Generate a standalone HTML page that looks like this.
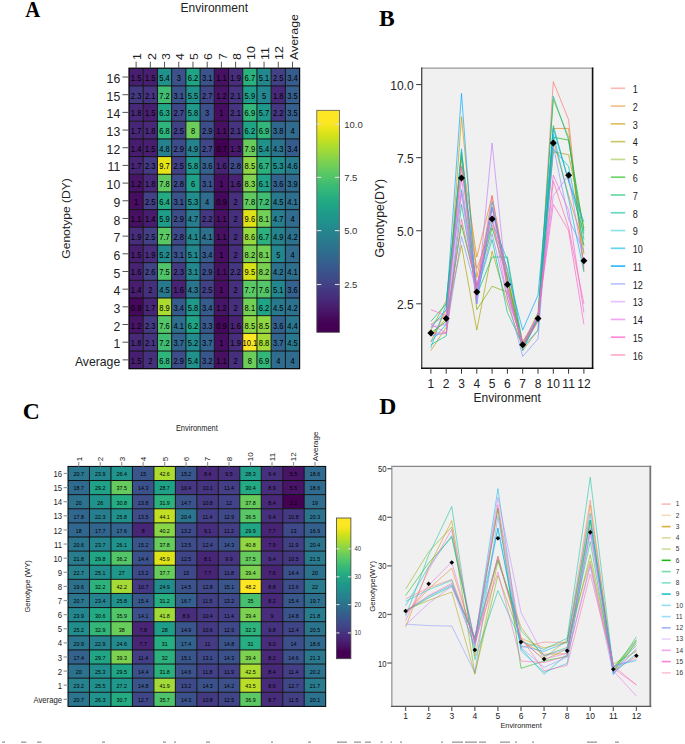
<!DOCTYPE html>
<html><head><meta charset="utf-8"><title>Figure</title>
<style>html,body{margin:0;padding:0;background:#fff;width:685px;height:744px;overflow:hidden}svg{display:block}text{font-family:"Liberation Sans",sans-serif}</style>
</head><body>
<svg width="685" height="744" viewBox="0 0 685 744"><rect x="129.00" y="68.20" width="14.27" height="17.73" fill="#481f70"/>
<rect x="143.22" y="68.20" width="14.27" height="17.73" fill="#481f70"/>
<rect x="157.43" y="68.20" width="14.27" height="17.73" fill="#21918c"/>
<rect x="171.65" y="68.20" width="14.27" height="17.73" fill="#3c508b"/>
<rect x="185.87" y="68.20" width="14.27" height="17.73" fill="#20a486"/>
<rect x="200.08" y="68.20" width="14.27" height="17.73" fill="#3a538b"/>
<rect x="214.30" y="68.20" width="14.27" height="17.73" fill="#471063"/>
<rect x="228.52" y="68.20" width="14.27" height="17.73" fill="#472d7b"/>
<rect x="242.73" y="68.20" width="14.27" height="17.73" fill="#2cb17e"/>
<rect x="256.95" y="68.20" width="14.27" height="17.73" fill="#23888e"/>
<rect x="271.17" y="68.20" width="14.27" height="17.73" fill="#424186"/>
<rect x="285.38" y="68.20" width="14.27" height="17.73" fill="#365c8d"/>
<rect x="129.00" y="85.88" width="14.27" height="17.73" fill="#443a83"/>
<rect x="143.22" y="85.88" width="14.27" height="17.73" fill="#463480"/>
<rect x="157.43" y="85.88" width="14.27" height="17.73" fill="#40bd72"/>
<rect x="171.65" y="85.88" width="14.27" height="17.73" fill="#3a538b"/>
<rect x="185.87" y="85.88" width="14.27" height="17.73" fill="#20928c"/>
<rect x="200.08" y="85.88" width="14.27" height="17.73" fill="#3f4788"/>
<rect x="214.30" y="85.88" width="14.27" height="17.73" fill="#481467"/>
<rect x="228.52" y="85.88" width="14.27" height="17.73" fill="#463480"/>
<rect x="242.73" y="85.88" width="14.27" height="17.73" fill="#1e9d89"/>
<rect x="256.95" y="85.88" width="14.27" height="17.73" fill="#24868e"/>
<rect x="271.17" y="85.88" width="14.27" height="17.73" fill="#482979"/>
<rect x="285.38" y="85.88" width="14.27" height="17.73" fill="#355f8d"/>
<rect x="129.00" y="103.55" width="14.27" height="17.73" fill="#482979"/>
<rect x="143.22" y="103.55" width="14.27" height="17.73" fill="#481f70"/>
<rect x="157.43" y="103.55" width="14.27" height="17.73" fill="#22a785"/>
<rect x="171.65" y="103.55" width="14.27" height="17.73" fill="#3f4788"/>
<rect x="185.87" y="103.55" width="14.27" height="17.73" fill="#1f9a8a"/>
<rect x="200.08" y="103.55" width="14.27" height="17.73" fill="#3c508b"/>
<rect x="214.30" y="103.55" width="14.27" height="17.73" fill="#470d60"/>
<rect x="228.52" y="103.55" width="14.27" height="17.73" fill="#463480"/>
<rect x="242.73" y="103.55" width="14.27" height="17.73" fill="#32b67a"/>
<rect x="256.95" y="103.55" width="14.27" height="17.73" fill="#1f988b"/>
<rect x="271.17" y="103.55" width="14.27" height="17.73" fill="#453781"/>
<rect x="285.38" y="103.55" width="14.27" height="17.73" fill="#355f8d"/>
<rect x="129.00" y="121.23" width="14.27" height="17.73" fill="#482677"/>
<rect x="143.22" y="121.23" width="14.27" height="17.73" fill="#482979"/>
<rect x="157.43" y="121.23" width="14.27" height="17.73" fill="#2fb47c"/>
<rect x="171.65" y="121.23" width="14.27" height="17.73" fill="#424186"/>
<rect x="185.87" y="121.23" width="14.27" height="17.73" fill="#6ccd5a"/>
<rect x="200.08" y="121.23" width="14.27" height="17.73" fill="#3d4d8a"/>
<rect x="214.30" y="121.23" width="14.27" height="17.73" fill="#471063"/>
<rect x="228.52" y="121.23" width="14.27" height="17.73" fill="#463480"/>
<rect x="242.73" y="121.23" width="14.27" height="17.73" fill="#20a486"/>
<rect x="256.95" y="121.23" width="14.27" height="17.73" fill="#32b67a"/>
<rect x="271.17" y="121.23" width="14.27" height="17.73" fill="#31678e"/>
<rect x="285.38" y="121.23" width="14.27" height="17.73" fill="#2f6c8e"/>
<rect x="129.00" y="138.91" width="14.27" height="17.73" fill="#481c6e"/>
<rect x="143.22" y="138.91" width="14.27" height="17.73" fill="#481f70"/>
<rect x="157.43" y="138.91" width="14.27" height="17.73" fill="#26818e"/>
<rect x="171.65" y="138.91" width="14.27" height="17.73" fill="#3d4d8a"/>
<rect x="185.87" y="138.91" width="14.27" height="17.73" fill="#25838e"/>
<rect x="200.08" y="138.91" width="14.27" height="17.73" fill="#3f4788"/>
<rect x="214.30" y="138.91" width="14.27" height="17.73" fill="#440154"/>
<rect x="228.52" y="138.91" width="14.27" height="17.73" fill="#48186a"/>
<rect x="242.73" y="138.91" width="14.27" height="17.73" fill="#67cc5c"/>
<rect x="256.95" y="138.91" width="14.27" height="17.73" fill="#21918c"/>
<rect x="271.17" y="138.91" width="14.27" height="17.73" fill="#2b748e"/>
<rect x="285.38" y="138.91" width="14.27" height="17.73" fill="#365c8d"/>
<rect x="129.00" y="156.58" width="14.27" height="17.73" fill="#482677"/>
<rect x="143.22" y="156.58" width="14.27" height="17.73" fill="#443a83"/>
<rect x="157.43" y="156.58" width="14.27" height="17.73" fill="#e5e419"/>
<rect x="171.65" y="156.58" width="14.27" height="17.73" fill="#424186"/>
<rect x="185.87" y="156.58" width="14.27" height="17.73" fill="#1f9a8a"/>
<rect x="200.08" y="156.58" width="14.27" height="17.73" fill="#34618d"/>
<rect x="214.30" y="156.58" width="14.27" height="17.73" fill="#482374"/>
<rect x="228.52" y="156.58" width="14.27" height="17.73" fill="#3e4a89"/>
<rect x="242.73" y="156.58" width="14.27" height="17.73" fill="#8ed645"/>
<rect x="256.95" y="156.58" width="14.27" height="17.73" fill="#2cb17e"/>
<rect x="271.17" y="156.58" width="14.27" height="17.73" fill="#218e8d"/>
<rect x="285.38" y="156.58" width="14.27" height="17.73" fill="#287c8e"/>
<rect x="129.00" y="174.26" width="14.27" height="17.73" fill="#481467"/>
<rect x="143.22" y="174.26" width="14.27" height="17.73" fill="#482979"/>
<rect x="157.43" y="174.26" width="14.27" height="17.73" fill="#60ca60"/>
<rect x="171.65" y="174.26" width="14.27" height="17.73" fill="#3e4a89"/>
<rect x="185.87" y="174.26" width="14.27" height="17.73" fill="#1fa088"/>
<rect x="200.08" y="174.26" width="14.27" height="17.73" fill="#3a538b"/>
<rect x="214.30" y="174.26" width="14.27" height="17.73" fill="#470d60"/>
<rect x="228.52" y="174.26" width="14.27" height="17.73" fill="#482374"/>
<rect x="242.73" y="174.26" width="14.27" height="17.73" fill="#7fd34e"/>
<rect x="256.95" y="174.26" width="14.27" height="17.73" fill="#1fa287"/>
<rect x="271.17" y="174.26" width="14.27" height="17.73" fill="#34618d"/>
<rect x="285.38" y="174.26" width="14.27" height="17.73" fill="#306a8e"/>
<rect x="129.00" y="191.94" width="14.27" height="17.73" fill="#470d60"/>
<rect x="143.22" y="191.94" width="14.27" height="17.73" fill="#424186"/>
<rect x="157.43" y="191.94" width="14.27" height="17.73" fill="#24aa83"/>
<rect x="171.65" y="191.94" width="14.27" height="17.73" fill="#3a538b"/>
<rect x="185.87" y="191.94" width="14.27" height="17.73" fill="#218e8d"/>
<rect x="200.08" y="191.94" width="14.27" height="17.73" fill="#2f6c8e"/>
<rect x="214.30" y="191.94" width="14.27" height="17.73" fill="#46085c"/>
<rect x="228.52" y="191.94" width="14.27" height="17.73" fill="#46307e"/>
<rect x="242.73" y="191.94" width="14.27" height="17.73" fill="#60ca60"/>
<rect x="256.95" y="191.94" width="14.27" height="17.73" fill="#40bd72"/>
<rect x="271.17" y="191.94" width="14.27" height="17.73" fill="#29798e"/>
<rect x="285.38" y="191.94" width="14.27" height="17.73" fill="#2e6f8e"/>
<rect x="129.00" y="209.61" width="14.27" height="17.73" fill="#471063"/>
<rect x="143.22" y="209.61" width="14.27" height="17.73" fill="#481c6e"/>
<rect x="157.43" y="209.61" width="14.27" height="17.73" fill="#1e9d89"/>
<rect x="171.65" y="209.61" width="14.27" height="17.73" fill="#3d4d8a"/>
<rect x="185.87" y="209.61" width="14.27" height="17.73" fill="#277e8e"/>
<rect x="200.08" y="209.61" width="14.27" height="17.73" fill="#453781"/>
<rect x="214.30" y="209.61" width="14.27" height="17.73" fill="#471063"/>
<rect x="228.52" y="209.61" width="14.27" height="17.73" fill="#46307e"/>
<rect x="242.73" y="209.61" width="14.27" height="17.73" fill="#dde318"/>
<rect x="256.95" y="209.61" width="14.27" height="17.73" fill="#73d056"/>
<rect x="271.17" y="209.61" width="14.27" height="17.73" fill="#277e8e"/>
<rect x="285.38" y="209.61" width="14.27" height="17.73" fill="#2f6c8e"/>
<rect x="129.00" y="227.29" width="14.27" height="17.73" fill="#472d7b"/>
<rect x="143.22" y="227.29" width="14.27" height="17.73" fill="#424186"/>
<rect x="157.43" y="227.29" width="14.27" height="17.73" fill="#5ac864"/>
<rect x="171.65" y="227.29" width="14.27" height="17.73" fill="#3e4a89"/>
<rect x="185.87" y="227.29" width="14.27" height="17.73" fill="#23888e"/>
<rect x="200.08" y="227.29" width="14.27" height="17.73" fill="#2e6f8e"/>
<rect x="214.30" y="227.29" width="14.27" height="17.73" fill="#471063"/>
<rect x="228.52" y="227.29" width="14.27" height="17.73" fill="#46307e"/>
<rect x="242.73" y="227.29" width="14.27" height="17.73" fill="#95d840"/>
<rect x="256.95" y="227.29" width="14.27" height="17.73" fill="#2cb17e"/>
<rect x="271.17" y="227.29" width="14.27" height="17.73" fill="#25838e"/>
<rect x="285.38" y="227.29" width="14.27" height="17.73" fill="#2c718e"/>
<rect x="129.00" y="244.96" width="14.27" height="17.73" fill="#481f70"/>
<rect x="143.22" y="244.96" width="14.27" height="17.73" fill="#472d7b"/>
<rect x="157.43" y="244.96" width="14.27" height="17.73" fill="#228b8d"/>
<rect x="171.65" y="244.96" width="14.27" height="17.73" fill="#3a538b"/>
<rect x="185.87" y="244.96" width="14.27" height="17.73" fill="#23888e"/>
<rect x="200.08" y="244.96" width="14.27" height="17.73" fill="#365c8d"/>
<rect x="214.30" y="244.96" width="14.27" height="17.73" fill="#470d60"/>
<rect x="228.52" y="244.96" width="14.27" height="17.73" fill="#46307e"/>
<rect x="242.73" y="244.96" width="14.27" height="17.73" fill="#7ad151"/>
<rect x="256.95" y="244.96" width="14.27" height="17.73" fill="#73d056"/>
<rect x="271.17" y="244.96" width="14.27" height="17.73" fill="#24868e"/>
<rect x="285.38" y="244.96" width="14.27" height="17.73" fill="#2f6c8e"/>
<rect x="129.00" y="262.64" width="14.27" height="17.73" fill="#482374"/>
<rect x="143.22" y="262.64" width="14.27" height="17.73" fill="#414487"/>
<rect x="157.43" y="262.64" width="14.27" height="17.73" fill="#50c46a"/>
<rect x="171.65" y="262.64" width="14.27" height="17.73" fill="#443a83"/>
<rect x="185.87" y="262.64" width="14.27" height="17.73" fill="#23888e"/>
<rect x="200.08" y="262.64" width="14.27" height="17.73" fill="#3d4d8a"/>
<rect x="214.30" y="262.64" width="14.27" height="17.73" fill="#471063"/>
<rect x="228.52" y="262.64" width="14.27" height="17.73" fill="#453781"/>
<rect x="242.73" y="262.64" width="14.27" height="17.73" fill="#d5e21a"/>
<rect x="256.95" y="262.64" width="14.27" height="17.73" fill="#7ad151"/>
<rect x="271.17" y="262.64" width="14.27" height="17.73" fill="#2c718e"/>
<rect x="285.38" y="262.64" width="14.27" height="17.73" fill="#2e6f8e"/>
<rect x="129.00" y="280.32" width="14.27" height="17.73" fill="#481c6e"/>
<rect x="143.22" y="280.32" width="14.27" height="17.73" fill="#46307e"/>
<rect x="157.43" y="280.32" width="14.27" height="17.73" fill="#29798e"/>
<rect x="171.65" y="280.32" width="14.27" height="17.73" fill="#482374"/>
<rect x="185.87" y="280.32" width="14.27" height="17.73" fill="#2b748e"/>
<rect x="200.08" y="280.32" width="14.27" height="17.73" fill="#424186"/>
<rect x="214.30" y="280.32" width="14.27" height="17.73" fill="#470d60"/>
<rect x="228.52" y="280.32" width="14.27" height="17.73" fill="#46307e"/>
<rect x="242.73" y="280.32" width="14.27" height="17.73" fill="#5ac864"/>
<rect x="256.95" y="280.32" width="14.27" height="17.73" fill="#54c568"/>
<rect x="271.17" y="280.32" width="14.27" height="17.73" fill="#23888e"/>
<rect x="285.38" y="280.32" width="14.27" height="17.73" fill="#34618d"/>
<rect x="129.00" y="297.99" width="14.27" height="17.73" fill="#46085c"/>
<rect x="143.22" y="297.99" width="14.27" height="17.73" fill="#482677"/>
<rect x="157.43" y="297.99" width="14.27" height="17.73" fill="#aadc32"/>
<rect x="171.65" y="297.99" width="14.27" height="17.73" fill="#365c8d"/>
<rect x="185.87" y="297.99" width="14.27" height="17.73" fill="#1f9a8a"/>
<rect x="200.08" y="297.99" width="14.27" height="17.73" fill="#365c8d"/>
<rect x="214.30" y="297.99" width="14.27" height="17.73" fill="#481467"/>
<rect x="228.52" y="297.99" width="14.27" height="17.73" fill="#46307e"/>
<rect x="242.73" y="297.99" width="14.27" height="17.73" fill="#73d056"/>
<rect x="256.95" y="297.99" width="14.27" height="17.73" fill="#20a486"/>
<rect x="271.17" y="297.99" width="14.27" height="17.73" fill="#29798e"/>
<rect x="285.38" y="297.99" width="14.27" height="17.73" fill="#2c718e"/>
<rect x="129.00" y="315.67" width="14.27" height="17.73" fill="#481467"/>
<rect x="143.22" y="315.67" width="14.27" height="17.73" fill="#443a83"/>
<rect x="157.43" y="315.67" width="14.27" height="17.73" fill="#54c568"/>
<rect x="171.65" y="315.67" width="14.27" height="17.73" fill="#2e6f8e"/>
<rect x="185.87" y="315.67" width="14.27" height="17.73" fill="#20a486"/>
<rect x="200.08" y="315.67" width="14.27" height="17.73" fill="#38598c"/>
<rect x="214.30" y="315.67" width="14.27" height="17.73" fill="#46085c"/>
<rect x="228.52" y="315.67" width="14.27" height="17.73" fill="#482374"/>
<rect x="242.73" y="315.67" width="14.27" height="17.73" fill="#8ed645"/>
<rect x="256.95" y="315.67" width="14.27" height="17.73" fill="#8ed645"/>
<rect x="271.17" y="315.67" width="14.27" height="17.73" fill="#34618d"/>
<rect x="285.38" y="315.67" width="14.27" height="17.73" fill="#2a768e"/>
<rect x="129.00" y="333.35" width="14.27" height="17.73" fill="#482979"/>
<rect x="143.22" y="333.35" width="14.27" height="17.73" fill="#463480"/>
<rect x="157.43" y="333.35" width="14.27" height="17.73" fill="#40bd72"/>
<rect x="171.65" y="333.35" width="14.27" height="17.73" fill="#32648e"/>
<rect x="185.87" y="333.35" width="14.27" height="17.73" fill="#228b8d"/>
<rect x="200.08" y="333.35" width="14.27" height="17.73" fill="#32648e"/>
<rect x="214.30" y="333.35" width="14.27" height="17.73" fill="#470d60"/>
<rect x="228.52" y="333.35" width="14.27" height="17.73" fill="#472d7b"/>
<rect x="242.73" y="333.35" width="14.27" height="17.73" fill="#fde725"/>
<rect x="256.95" y="333.35" width="14.27" height="17.73" fill="#a2da37"/>
<rect x="271.17" y="333.35" width="14.27" height="17.73" fill="#32648e"/>
<rect x="285.38" y="333.35" width="14.27" height="17.73" fill="#29798e"/>
<rect x="129.00" y="351.02" width="14.27" height="17.73" fill="#481f70"/>
<rect x="143.22" y="351.02" width="14.27" height="17.73" fill="#46307e"/>
<rect x="157.43" y="351.02" width="14.27" height="17.73" fill="#2fb47c"/>
<rect x="171.65" y="351.02" width="14.27" height="17.73" fill="#3d4d8a"/>
<rect x="185.87" y="351.02" width="14.27" height="17.73" fill="#21918c"/>
<rect x="200.08" y="351.02" width="14.27" height="17.73" fill="#39568c"/>
<rect x="214.30" y="351.02" width="14.27" height="17.73" fill="#471063"/>
<rect x="228.52" y="351.02" width="14.27" height="17.73" fill="#46307e"/>
<rect x="242.73" y="351.02" width="14.27" height="17.73" fill="#6ccd5a"/>
<rect x="256.95" y="351.02" width="14.27" height="17.73" fill="#32b67a"/>
<rect x="271.17" y="351.02" width="14.27" height="17.73" fill="#2f6c8e"/>
<rect x="285.38" y="351.02" width="14.27" height="17.73" fill="#2f6c8e"/>
<line x1="143.22" y1="68.2" x2="143.22" y2="368.7" stroke="#111" stroke-width="1"/>
<line x1="157.43" y1="68.2" x2="157.43" y2="368.7" stroke="#111" stroke-width="1"/>
<line x1="171.65" y1="68.2" x2="171.65" y2="368.7" stroke="#111" stroke-width="1"/>
<line x1="185.87" y1="68.2" x2="185.87" y2="368.7" stroke="#111" stroke-width="1"/>
<line x1="200.08" y1="68.2" x2="200.08" y2="368.7" stroke="#111" stroke-width="1"/>
<line x1="214.30" y1="68.2" x2="214.30" y2="368.7" stroke="#111" stroke-width="1"/>
<line x1="228.52" y1="68.2" x2="228.52" y2="368.7" stroke="#111" stroke-width="1"/>
<line x1="242.73" y1="68.2" x2="242.73" y2="368.7" stroke="#111" stroke-width="1"/>
<line x1="256.95" y1="68.2" x2="256.95" y2="368.7" stroke="#111" stroke-width="1"/>
<line x1="271.17" y1="68.2" x2="271.17" y2="368.7" stroke="#111" stroke-width="1"/>
<line x1="285.38" y1="68.2" x2="285.38" y2="368.7" stroke="#111" stroke-width="1"/>
<line x1="129" y1="85.88" x2="299.6" y2="85.88" stroke="#111" stroke-width="1"/>
<line x1="129" y1="103.55" x2="299.6" y2="103.55" stroke="#111" stroke-width="1"/>
<line x1="129" y1="121.23" x2="299.6" y2="121.23" stroke="#111" stroke-width="1"/>
<line x1="129" y1="138.91" x2="299.6" y2="138.91" stroke="#111" stroke-width="1"/>
<line x1="129" y1="156.58" x2="299.6" y2="156.58" stroke="#111" stroke-width="1"/>
<line x1="129" y1="174.26" x2="299.6" y2="174.26" stroke="#111" stroke-width="1"/>
<line x1="129" y1="191.94" x2="299.6" y2="191.94" stroke="#111" stroke-width="1"/>
<line x1="129" y1="209.61" x2="299.6" y2="209.61" stroke="#111" stroke-width="1"/>
<line x1="129" y1="227.29" x2="299.6" y2="227.29" stroke="#111" stroke-width="1"/>
<line x1="129" y1="244.96" x2="299.6" y2="244.96" stroke="#111" stroke-width="1"/>
<line x1="129" y1="262.64" x2="299.6" y2="262.64" stroke="#111" stroke-width="1"/>
<line x1="129" y1="280.32" x2="299.6" y2="280.32" stroke="#111" stroke-width="1"/>
<line x1="129" y1="297.99" x2="299.6" y2="297.99" stroke="#111" stroke-width="1"/>
<line x1="129" y1="315.67" x2="299.6" y2="315.67" stroke="#111" stroke-width="1"/>
<line x1="129" y1="333.35" x2="299.6" y2="333.35" stroke="#111" stroke-width="1"/>
<line x1="129" y1="351.02" x2="299.6" y2="351.02" stroke="#111" stroke-width="1"/>
<rect x="129" y="68.2" width="170.60000000000002" height="300.5" fill="none" stroke="#000" stroke-width="1.2"/>
<text x="0" y="0" font-size="8.4" text-anchor="middle" fill="#000" transform="translate(136.11 81.04) scale(0.9 1.0)">1.5</text>
<text x="0" y="0" font-size="8.4" text-anchor="middle" fill="#000" transform="translate(150.32 81.04) scale(0.9 1.0)">1.5</text>
<text x="0" y="0" font-size="8.4" text-anchor="middle" fill="#000" transform="translate(164.54 81.04) scale(0.9 1.0)">5.4</text>
<text x="0" y="0" font-size="8.4" text-anchor="middle" fill="#000" transform="translate(178.76 81.04) scale(0.9 1.0)">3</text>
<text x="0" y="0" font-size="8.4" text-anchor="middle" fill="#000" transform="translate(192.98 81.04) scale(0.9 1.0)">6.2</text>
<text x="0" y="0" font-size="8.4" text-anchor="middle" fill="#000" transform="translate(207.19 81.04) scale(0.9 1.0)">3.1</text>
<text x="0" y="0" font-size="8.4" text-anchor="middle" fill="#000" transform="translate(221.41 81.04) scale(0.9 1.0)">1.1</text>
<text x="0" y="0" font-size="8.4" text-anchor="middle" fill="#000" transform="translate(235.62 81.04) scale(0.9 1.0)">1.9</text>
<text x="0" y="0" font-size="8.4" text-anchor="middle" fill="#000" transform="translate(249.84 81.04) scale(0.9 1.0)">6.7</text>
<text x="0" y="0" font-size="8.4" text-anchor="middle" fill="#000" transform="translate(264.06 81.04) scale(0.9 1.0)">5.1</text>
<text x="0" y="0" font-size="8.4" text-anchor="middle" fill="#000" transform="translate(278.28 81.04) scale(0.9 1.0)">2.5</text>
<text x="0" y="0" font-size="8.4" text-anchor="middle" fill="#000" transform="translate(292.49 81.04) scale(0.9 1.0)">3.4</text>
<text x="0" y="0" font-size="8.4" text-anchor="middle" fill="#000" transform="translate(136.11 98.71) scale(0.9 1.0)">2.3</text>
<text x="0" y="0" font-size="8.4" text-anchor="middle" fill="#000" transform="translate(150.32 98.71) scale(0.9 1.0)">2.1</text>
<text x="0" y="0" font-size="8.4" text-anchor="middle" fill="#000" transform="translate(164.54 98.71) scale(0.9 1.0)">7.2</text>
<text x="0" y="0" font-size="8.4" text-anchor="middle" fill="#000" transform="translate(178.76 98.71) scale(0.9 1.0)">3.1</text>
<text x="0" y="0" font-size="8.4" text-anchor="middle" fill="#000" transform="translate(192.98 98.71) scale(0.9 1.0)">5.5</text>
<text x="0" y="0" font-size="8.4" text-anchor="middle" fill="#000" transform="translate(207.19 98.71) scale(0.9 1.0)">2.7</text>
<text x="0" y="0" font-size="8.4" text-anchor="middle" fill="#000" transform="translate(221.41 98.71) scale(0.9 1.0)">1.2</text>
<text x="0" y="0" font-size="8.4" text-anchor="middle" fill="#000" transform="translate(235.62 98.71) scale(0.9 1.0)">2.1</text>
<text x="0" y="0" font-size="8.4" text-anchor="middle" fill="#000" transform="translate(249.84 98.71) scale(0.9 1.0)">5.9</text>
<text x="0" y="0" font-size="8.4" text-anchor="middle" fill="#000" transform="translate(264.06 98.71) scale(0.9 1.0)">5</text>
<text x="0" y="0" font-size="8.4" text-anchor="middle" fill="#000" transform="translate(278.28 98.71) scale(0.9 1.0)">1.8</text>
<text x="0" y="0" font-size="8.4" text-anchor="middle" fill="#000" transform="translate(292.49 98.71) scale(0.9 1.0)">3.5</text>
<text x="0" y="0" font-size="8.4" text-anchor="middle" fill="#000" transform="translate(136.11 116.39) scale(0.9 1.0)">1.8</text>
<text x="0" y="0" font-size="8.4" text-anchor="middle" fill="#000" transform="translate(150.32 116.39) scale(0.9 1.0)">1.5</text>
<text x="0" y="0" font-size="8.4" text-anchor="middle" fill="#000" transform="translate(164.54 116.39) scale(0.9 1.0)">6.3</text>
<text x="0" y="0" font-size="8.4" text-anchor="middle" fill="#000" transform="translate(178.76 116.39) scale(0.9 1.0)">2.7</text>
<text x="0" y="0" font-size="8.4" text-anchor="middle" fill="#000" transform="translate(192.98 116.39) scale(0.9 1.0)">5.8</text>
<text x="0" y="0" font-size="8.4" text-anchor="middle" fill="#000" transform="translate(207.19 116.39) scale(0.9 1.0)">3</text>
<text x="0" y="0" font-size="8.4" text-anchor="middle" fill="#000" transform="translate(221.41 116.39) scale(0.9 1.0)">1</text>
<text x="0" y="0" font-size="8.4" text-anchor="middle" fill="#000" transform="translate(235.62 116.39) scale(0.9 1.0)">2.1</text>
<text x="0" y="0" font-size="8.4" text-anchor="middle" fill="#000" transform="translate(249.84 116.39) scale(0.9 1.0)">6.9</text>
<text x="0" y="0" font-size="8.4" text-anchor="middle" fill="#000" transform="translate(264.06 116.39) scale(0.9 1.0)">5.7</text>
<text x="0" y="0" font-size="8.4" text-anchor="middle" fill="#000" transform="translate(278.28 116.39) scale(0.9 1.0)">2.2</text>
<text x="0" y="0" font-size="8.4" text-anchor="middle" fill="#000" transform="translate(292.49 116.39) scale(0.9 1.0)">3.5</text>
<text x="0" y="0" font-size="8.4" text-anchor="middle" fill="#000" transform="translate(136.11 134.07) scale(0.9 1.0)">1.7</text>
<text x="0" y="0" font-size="8.4" text-anchor="middle" fill="#000" transform="translate(150.32 134.07) scale(0.9 1.0)">1.8</text>
<text x="0" y="0" font-size="8.4" text-anchor="middle" fill="#000" transform="translate(164.54 134.07) scale(0.9 1.0)">6.8</text>
<text x="0" y="0" font-size="8.4" text-anchor="middle" fill="#000" transform="translate(178.76 134.07) scale(0.9 1.0)">2.5</text>
<text x="0" y="0" font-size="8.4" text-anchor="middle" fill="#000" transform="translate(192.98 134.07) scale(0.9 1.0)">8</text>
<text x="0" y="0" font-size="8.4" text-anchor="middle" fill="#000" transform="translate(207.19 134.07) scale(0.9 1.0)">2.9</text>
<text x="0" y="0" font-size="8.4" text-anchor="middle" fill="#000" transform="translate(221.41 134.07) scale(0.9 1.0)">1.1</text>
<text x="0" y="0" font-size="8.4" text-anchor="middle" fill="#000" transform="translate(235.62 134.07) scale(0.9 1.0)">2.1</text>
<text x="0" y="0" font-size="8.4" text-anchor="middle" fill="#000" transform="translate(249.84 134.07) scale(0.9 1.0)">6.2</text>
<text x="0" y="0" font-size="8.4" text-anchor="middle" fill="#000" transform="translate(264.06 134.07) scale(0.9 1.0)">6.9</text>
<text x="0" y="0" font-size="8.4" text-anchor="middle" fill="#000" transform="translate(278.28 134.07) scale(0.9 1.0)">3.8</text>
<text x="0" y="0" font-size="8.4" text-anchor="middle" fill="#000" transform="translate(292.49 134.07) scale(0.9 1.0)">4</text>
<text x="0" y="0" font-size="8.4" text-anchor="middle" fill="#000" transform="translate(136.11 151.74) scale(0.9 1.0)">1.4</text>
<text x="0" y="0" font-size="8.4" text-anchor="middle" fill="#000" transform="translate(150.32 151.74) scale(0.9 1.0)">1.5</text>
<text x="0" y="0" font-size="8.4" text-anchor="middle" fill="#000" transform="translate(164.54 151.74) scale(0.9 1.0)">4.8</text>
<text x="0" y="0" font-size="8.4" text-anchor="middle" fill="#000" transform="translate(178.76 151.74) scale(0.9 1.0)">2.9</text>
<text x="0" y="0" font-size="8.4" text-anchor="middle" fill="#000" transform="translate(192.98 151.74) scale(0.9 1.0)">4.9</text>
<text x="0" y="0" font-size="8.4" text-anchor="middle" fill="#000" transform="translate(207.19 151.74) scale(0.9 1.0)">2.7</text>
<text x="0" y="0" font-size="8.4" text-anchor="middle" fill="#000" transform="translate(221.41 151.74) scale(0.9 1.0)">0.7</text>
<text x="0" y="0" font-size="8.4" text-anchor="middle" fill="#000" transform="translate(235.62 151.74) scale(0.9 1.0)">1.3</text>
<text x="0" y="0" font-size="8.4" text-anchor="middle" fill="#000" transform="translate(249.84 151.74) scale(0.9 1.0)">7.9</text>
<text x="0" y="0" font-size="8.4" text-anchor="middle" fill="#000" transform="translate(264.06 151.74) scale(0.9 1.0)">5.4</text>
<text x="0" y="0" font-size="8.4" text-anchor="middle" fill="#000" transform="translate(278.28 151.74) scale(0.9 1.0)">4.3</text>
<text x="0" y="0" font-size="8.4" text-anchor="middle" fill="#000" transform="translate(292.49 151.74) scale(0.9 1.0)">3.4</text>
<text x="0" y="0" font-size="8.4" text-anchor="middle" fill="#000" transform="translate(136.11 169.42) scale(0.9 1.0)">1.7</text>
<text x="0" y="0" font-size="8.4" text-anchor="middle" fill="#000" transform="translate(150.32 169.42) scale(0.9 1.0)">2.3</text>
<text x="0" y="0" font-size="8.4" text-anchor="middle" fill="#000" transform="translate(164.54 169.42) scale(0.9 1.0)">9.7</text>
<text x="0" y="0" font-size="8.4" text-anchor="middle" fill="#000" transform="translate(178.76 169.42) scale(0.9 1.0)">2.5</text>
<text x="0" y="0" font-size="8.4" text-anchor="middle" fill="#000" transform="translate(192.98 169.42) scale(0.9 1.0)">5.8</text>
<text x="0" y="0" font-size="8.4" text-anchor="middle" fill="#000" transform="translate(207.19 169.42) scale(0.9 1.0)">3.6</text>
<text x="0" y="0" font-size="8.4" text-anchor="middle" fill="#000" transform="translate(221.41 169.42) scale(0.9 1.0)">1.6</text>
<text x="0" y="0" font-size="8.4" text-anchor="middle" fill="#000" transform="translate(235.62 169.42) scale(0.9 1.0)">2.8</text>
<text x="0" y="0" font-size="8.4" text-anchor="middle" fill="#000" transform="translate(249.84 169.42) scale(0.9 1.0)">8.5</text>
<text x="0" y="0" font-size="8.4" text-anchor="middle" fill="#000" transform="translate(264.06 169.42) scale(0.9 1.0)">6.7</text>
<text x="0" y="0" font-size="8.4" text-anchor="middle" fill="#000" transform="translate(278.28 169.42) scale(0.9 1.0)">5.3</text>
<text x="0" y="0" font-size="8.4" text-anchor="middle" fill="#000" transform="translate(292.49 169.42) scale(0.9 1.0)">4.6</text>
<text x="0" y="0" font-size="8.4" text-anchor="middle" fill="#000" transform="translate(136.11 187.10) scale(0.9 1.0)">1.2</text>
<text x="0" y="0" font-size="8.4" text-anchor="middle" fill="#000" transform="translate(150.32 187.10) scale(0.9 1.0)">1.8</text>
<text x="0" y="0" font-size="8.4" text-anchor="middle" fill="#000" transform="translate(164.54 187.10) scale(0.9 1.0)">7.8</text>
<text x="0" y="0" font-size="8.4" text-anchor="middle" fill="#000" transform="translate(178.76 187.10) scale(0.9 1.0)">2.8</text>
<text x="0" y="0" font-size="8.4" text-anchor="middle" fill="#000" transform="translate(192.98 187.10) scale(0.9 1.0)">6</text>
<text x="0" y="0" font-size="8.4" text-anchor="middle" fill="#000" transform="translate(207.19 187.10) scale(0.9 1.0)">3.1</text>
<text x="0" y="0" font-size="8.4" text-anchor="middle" fill="#000" transform="translate(221.41 187.10) scale(0.9 1.0)">1</text>
<text x="0" y="0" font-size="8.4" text-anchor="middle" fill="#000" transform="translate(235.62 187.10) scale(0.9 1.0)">1.6</text>
<text x="0" y="0" font-size="8.4" text-anchor="middle" fill="#000" transform="translate(249.84 187.10) scale(0.9 1.0)">8.3</text>
<text x="0" y="0" font-size="8.4" text-anchor="middle" fill="#000" transform="translate(264.06 187.10) scale(0.9 1.0)">6.1</text>
<text x="0" y="0" font-size="8.4" text-anchor="middle" fill="#000" transform="translate(278.28 187.10) scale(0.9 1.0)">3.6</text>
<text x="0" y="0" font-size="8.4" text-anchor="middle" fill="#000" transform="translate(292.49 187.10) scale(0.9 1.0)">3.9</text>
<text x="0" y="0" font-size="8.4" text-anchor="middle" fill="#000" transform="translate(136.11 204.77) scale(0.9 1.0)">1</text>
<text x="0" y="0" font-size="8.4" text-anchor="middle" fill="#000" transform="translate(150.32 204.77) scale(0.9 1.0)">2.5</text>
<text x="0" y="0" font-size="8.4" text-anchor="middle" fill="#000" transform="translate(164.54 204.77) scale(0.9 1.0)">6.4</text>
<text x="0" y="0" font-size="8.4" text-anchor="middle" fill="#000" transform="translate(178.76 204.77) scale(0.9 1.0)">3.1</text>
<text x="0" y="0" font-size="8.4" text-anchor="middle" fill="#000" transform="translate(192.98 204.77) scale(0.9 1.0)">5.3</text>
<text x="0" y="0" font-size="8.4" text-anchor="middle" fill="#000" transform="translate(207.19 204.77) scale(0.9 1.0)">4</text>
<text x="0" y="0" font-size="8.4" text-anchor="middle" fill="#000" transform="translate(221.41 204.77) scale(0.9 1.0)">0.9</text>
<text x="0" y="0" font-size="8.4" text-anchor="middle" fill="#000" transform="translate(235.62 204.77) scale(0.9 1.0)">2</text>
<text x="0" y="0" font-size="8.4" text-anchor="middle" fill="#000" transform="translate(249.84 204.77) scale(0.9 1.0)">7.8</text>
<text x="0" y="0" font-size="8.4" text-anchor="middle" fill="#000" transform="translate(264.06 204.77) scale(0.9 1.0)">7.2</text>
<text x="0" y="0" font-size="8.4" text-anchor="middle" fill="#000" transform="translate(278.28 204.77) scale(0.9 1.0)">4.5</text>
<text x="0" y="0" font-size="8.4" text-anchor="middle" fill="#000" transform="translate(292.49 204.77) scale(0.9 1.0)">4.1</text>
<text x="0" y="0" font-size="8.4" text-anchor="middle" fill="#000" transform="translate(136.11 222.45) scale(0.9 1.0)">1.1</text>
<text x="0" y="0" font-size="8.4" text-anchor="middle" fill="#000" transform="translate(150.32 222.45) scale(0.9 1.0)">1.4</text>
<text x="0" y="0" font-size="8.4" text-anchor="middle" fill="#000" transform="translate(164.54 222.45) scale(0.9 1.0)">5.9</text>
<text x="0" y="0" font-size="8.4" text-anchor="middle" fill="#000" transform="translate(178.76 222.45) scale(0.9 1.0)">2.9</text>
<text x="0" y="0" font-size="8.4" text-anchor="middle" fill="#000" transform="translate(192.98 222.45) scale(0.9 1.0)">4.7</text>
<text x="0" y="0" font-size="8.4" text-anchor="middle" fill="#000" transform="translate(207.19 222.45) scale(0.9 1.0)">2.2</text>
<text x="0" y="0" font-size="8.4" text-anchor="middle" fill="#000" transform="translate(221.41 222.45) scale(0.9 1.0)">1.1</text>
<text x="0" y="0" font-size="8.4" text-anchor="middle" fill="#000" transform="translate(235.62 222.45) scale(0.9 1.0)">2</text>
<text x="0" y="0" font-size="8.4" text-anchor="middle" fill="#000" transform="translate(249.84 222.45) scale(0.9 1.0)">9.6</text>
<text x="0" y="0" font-size="8.4" text-anchor="middle" fill="#000" transform="translate(264.06 222.45) scale(0.9 1.0)">8.1</text>
<text x="0" y="0" font-size="8.4" text-anchor="middle" fill="#000" transform="translate(278.28 222.45) scale(0.9 1.0)">4.7</text>
<text x="0" y="0" font-size="8.4" text-anchor="middle" fill="#000" transform="translate(292.49 222.45) scale(0.9 1.0)">4</text>
<text x="0" y="0" font-size="8.4" text-anchor="middle" fill="#000" transform="translate(136.11 240.13) scale(0.9 1.0)">1.9</text>
<text x="0" y="0" font-size="8.4" text-anchor="middle" fill="#000" transform="translate(150.32 240.13) scale(0.9 1.0)">2.5</text>
<text x="0" y="0" font-size="8.4" text-anchor="middle" fill="#000" transform="translate(164.54 240.13) scale(0.9 1.0)">7.7</text>
<text x="0" y="0" font-size="8.4" text-anchor="middle" fill="#000" transform="translate(178.76 240.13) scale(0.9 1.0)">2.8</text>
<text x="0" y="0" font-size="8.4" text-anchor="middle" fill="#000" transform="translate(192.98 240.13) scale(0.9 1.0)">4.1</text>
<text x="0" y="0" font-size="8.4" text-anchor="middle" fill="#000" transform="translate(207.19 240.13) scale(0.9 1.0)">4.1</text>
<text x="0" y="0" font-size="8.4" text-anchor="middle" fill="#000" transform="translate(221.41 240.13) scale(0.9 1.0)">1.1</text>
<text x="0" y="0" font-size="8.4" text-anchor="middle" fill="#000" transform="translate(235.62 240.13) scale(0.9 1.0)">2</text>
<text x="0" y="0" font-size="8.4" text-anchor="middle" fill="#000" transform="translate(249.84 240.13) scale(0.9 1.0)">8.6</text>
<text x="0" y="0" font-size="8.4" text-anchor="middle" fill="#000" transform="translate(264.06 240.13) scale(0.9 1.0)">6.7</text>
<text x="0" y="0" font-size="8.4" text-anchor="middle" fill="#000" transform="translate(278.28 240.13) scale(0.9 1.0)">4.9</text>
<text x="0" y="0" font-size="8.4" text-anchor="middle" fill="#000" transform="translate(292.49 240.13) scale(0.9 1.0)">4.2</text>
<text x="0" y="0" font-size="8.4" text-anchor="middle" fill="#000" transform="translate(136.11 257.80) scale(0.9 1.0)">1.5</text>
<text x="0" y="0" font-size="8.4" text-anchor="middle" fill="#000" transform="translate(150.32 257.80) scale(0.9 1.0)">1.9</text>
<text x="0" y="0" font-size="8.4" text-anchor="middle" fill="#000" transform="translate(164.54 257.80) scale(0.9 1.0)">5.2</text>
<text x="0" y="0" font-size="8.4" text-anchor="middle" fill="#000" transform="translate(178.76 257.80) scale(0.9 1.0)">3.1</text>
<text x="0" y="0" font-size="8.4" text-anchor="middle" fill="#000" transform="translate(192.98 257.80) scale(0.9 1.0)">5.1</text>
<text x="0" y="0" font-size="8.4" text-anchor="middle" fill="#000" transform="translate(207.19 257.80) scale(0.9 1.0)">3.4</text>
<text x="0" y="0" font-size="8.4" text-anchor="middle" fill="#000" transform="translate(221.41 257.80) scale(0.9 1.0)">1</text>
<text x="0" y="0" font-size="8.4" text-anchor="middle" fill="#000" transform="translate(235.62 257.80) scale(0.9 1.0)">2</text>
<text x="0" y="0" font-size="8.4" text-anchor="middle" fill="#000" transform="translate(249.84 257.80) scale(0.9 1.0)">8.2</text>
<text x="0" y="0" font-size="8.4" text-anchor="middle" fill="#000" transform="translate(264.06 257.80) scale(0.9 1.0)">8.1</text>
<text x="0" y="0" font-size="8.4" text-anchor="middle" fill="#000" transform="translate(278.28 257.80) scale(0.9 1.0)">5</text>
<text x="0" y="0" font-size="8.4" text-anchor="middle" fill="#000" transform="translate(292.49 257.80) scale(0.9 1.0)">4</text>
<text x="0" y="0" font-size="8.4" text-anchor="middle" fill="#000" transform="translate(136.11 275.48) scale(0.9 1.0)">1.6</text>
<text x="0" y="0" font-size="8.4" text-anchor="middle" fill="#000" transform="translate(150.32 275.48) scale(0.9 1.0)">2.6</text>
<text x="0" y="0" font-size="8.4" text-anchor="middle" fill="#000" transform="translate(164.54 275.48) scale(0.9 1.0)">7.5</text>
<text x="0" y="0" font-size="8.4" text-anchor="middle" fill="#000" transform="translate(178.76 275.48) scale(0.9 1.0)">2.3</text>
<text x="0" y="0" font-size="8.4" text-anchor="middle" fill="#000" transform="translate(192.98 275.48) scale(0.9 1.0)">3.1</text>
<text x="0" y="0" font-size="8.4" text-anchor="middle" fill="#000" transform="translate(207.19 275.48) scale(0.9 1.0)">2.9</text>
<text x="0" y="0" font-size="8.4" text-anchor="middle" fill="#000" transform="translate(221.41 275.48) scale(0.9 1.0)">1.1</text>
<text x="0" y="0" font-size="8.4" text-anchor="middle" fill="#000" transform="translate(235.62 275.48) scale(0.9 1.0)">2.2</text>
<text x="0" y="0" font-size="8.4" text-anchor="middle" fill="#000" transform="translate(249.84 275.48) scale(0.9 1.0)">9.5</text>
<text x="0" y="0" font-size="8.4" text-anchor="middle" fill="#000" transform="translate(264.06 275.48) scale(0.9 1.0)">8.2</text>
<text x="0" y="0" font-size="8.4" text-anchor="middle" fill="#000" transform="translate(278.28 275.48) scale(0.9 1.0)">4.2</text>
<text x="0" y="0" font-size="8.4" text-anchor="middle" fill="#000" transform="translate(292.49 275.48) scale(0.9 1.0)">4.1</text>
<text x="0" y="0" font-size="8.4" text-anchor="middle" fill="#000" transform="translate(136.11 293.16) scale(0.9 1.0)">1.4</text>
<text x="0" y="0" font-size="8.4" text-anchor="middle" fill="#000" transform="translate(150.32 293.16) scale(0.9 1.0)">2</text>
<text x="0" y="0" font-size="8.4" text-anchor="middle" fill="#000" transform="translate(164.54 293.16) scale(0.9 1.0)">4.5</text>
<text x="0" y="0" font-size="8.4" text-anchor="middle" fill="#000" transform="translate(178.76 293.16) scale(0.9 1.0)">1.6</text>
<text x="0" y="0" font-size="8.4" text-anchor="middle" fill="#000" transform="translate(192.98 293.16) scale(0.9 1.0)">4.3</text>
<text x="0" y="0" font-size="8.4" text-anchor="middle" fill="#000" transform="translate(207.19 293.16) scale(0.9 1.0)">2.5</text>
<text x="0" y="0" font-size="8.4" text-anchor="middle" fill="#000" transform="translate(221.41 293.16) scale(0.9 1.0)">1</text>
<text x="0" y="0" font-size="8.4" text-anchor="middle" fill="#000" transform="translate(235.62 293.16) scale(0.9 1.0)">2</text>
<text x="0" y="0" font-size="8.4" text-anchor="middle" fill="#000" transform="translate(249.84 293.16) scale(0.9 1.0)">7.7</text>
<text x="0" y="0" font-size="8.4" text-anchor="middle" fill="#000" transform="translate(264.06 293.16) scale(0.9 1.0)">7.6</text>
<text x="0" y="0" font-size="8.4" text-anchor="middle" fill="#000" transform="translate(278.28 293.16) scale(0.9 1.0)">5.1</text>
<text x="0" y="0" font-size="8.4" text-anchor="middle" fill="#000" transform="translate(292.49 293.16) scale(0.9 1.0)">3.6</text>
<text x="0" y="0" font-size="8.4" text-anchor="middle" fill="#000" transform="translate(136.11 310.83) scale(0.9 1.0)">0.9</text>
<text x="0" y="0" font-size="8.4" text-anchor="middle" fill="#000" transform="translate(150.32 310.83) scale(0.9 1.0)">1.7</text>
<text x="0" y="0" font-size="8.4" text-anchor="middle" fill="#000" transform="translate(164.54 310.83) scale(0.9 1.0)">8.9</text>
<text x="0" y="0" font-size="8.4" text-anchor="middle" fill="#000" transform="translate(178.76 310.83) scale(0.9 1.0)">3.4</text>
<text x="0" y="0" font-size="8.4" text-anchor="middle" fill="#000" transform="translate(192.98 310.83) scale(0.9 1.0)">5.8</text>
<text x="0" y="0" font-size="8.4" text-anchor="middle" fill="#000" transform="translate(207.19 310.83) scale(0.9 1.0)">3.4</text>
<text x="0" y="0" font-size="8.4" text-anchor="middle" fill="#000" transform="translate(221.41 310.83) scale(0.9 1.0)">1.2</text>
<text x="0" y="0" font-size="8.4" text-anchor="middle" fill="#000" transform="translate(235.62 310.83) scale(0.9 1.0)">2</text>
<text x="0" y="0" font-size="8.4" text-anchor="middle" fill="#000" transform="translate(249.84 310.83) scale(0.9 1.0)">8.1</text>
<text x="0" y="0" font-size="8.4" text-anchor="middle" fill="#000" transform="translate(264.06 310.83) scale(0.9 1.0)">6.2</text>
<text x="0" y="0" font-size="8.4" text-anchor="middle" fill="#000" transform="translate(278.28 310.83) scale(0.9 1.0)">4.5</text>
<text x="0" y="0" font-size="8.4" text-anchor="middle" fill="#000" transform="translate(292.49 310.83) scale(0.9 1.0)">4.2</text>
<text x="0" y="0" font-size="8.4" text-anchor="middle" fill="#000" transform="translate(136.11 328.51) scale(0.9 1.0)">1.2</text>
<text x="0" y="0" font-size="8.4" text-anchor="middle" fill="#000" transform="translate(150.32 328.51) scale(0.9 1.0)">2.3</text>
<text x="0" y="0" font-size="8.4" text-anchor="middle" fill="#000" transform="translate(164.54 328.51) scale(0.9 1.0)">7.6</text>
<text x="0" y="0" font-size="8.4" text-anchor="middle" fill="#000" transform="translate(178.76 328.51) scale(0.9 1.0)">4.1</text>
<text x="0" y="0" font-size="8.4" text-anchor="middle" fill="#000" transform="translate(192.98 328.51) scale(0.9 1.0)">6.2</text>
<text x="0" y="0" font-size="8.4" text-anchor="middle" fill="#000" transform="translate(207.19 328.51) scale(0.9 1.0)">3.3</text>
<text x="0" y="0" font-size="8.4" text-anchor="middle" fill="#000" transform="translate(221.41 328.51) scale(0.9 1.0)">0.9</text>
<text x="0" y="0" font-size="8.4" text-anchor="middle" fill="#000" transform="translate(235.62 328.51) scale(0.9 1.0)">1.6</text>
<text x="0" y="0" font-size="8.4" text-anchor="middle" fill="#000" transform="translate(249.84 328.51) scale(0.9 1.0)">8.5</text>
<text x="0" y="0" font-size="8.4" text-anchor="middle" fill="#000" transform="translate(264.06 328.51) scale(0.9 1.0)">8.5</text>
<text x="0" y="0" font-size="8.4" text-anchor="middle" fill="#000" transform="translate(278.28 328.51) scale(0.9 1.0)">3.6</text>
<text x="0" y="0" font-size="8.4" text-anchor="middle" fill="#000" transform="translate(292.49 328.51) scale(0.9 1.0)">4.4</text>
<text x="0" y="0" font-size="8.4" text-anchor="middle" fill="#000" transform="translate(136.11 346.19) scale(0.9 1.0)">1.8</text>
<text x="0" y="0" font-size="8.4" text-anchor="middle" fill="#000" transform="translate(150.32 346.19) scale(0.9 1.0)">2.1</text>
<text x="0" y="0" font-size="8.4" text-anchor="middle" fill="#000" transform="translate(164.54 346.19) scale(0.9 1.0)">7.2</text>
<text x="0" y="0" font-size="8.4" text-anchor="middle" fill="#000" transform="translate(178.76 346.19) scale(0.9 1.0)">3.7</text>
<text x="0" y="0" font-size="8.4" text-anchor="middle" fill="#000" transform="translate(192.98 346.19) scale(0.9 1.0)">5.2</text>
<text x="0" y="0" font-size="8.4" text-anchor="middle" fill="#000" transform="translate(207.19 346.19) scale(0.9 1.0)">3.7</text>
<text x="0" y="0" font-size="8.4" text-anchor="middle" fill="#000" transform="translate(221.41 346.19) scale(0.9 1.0)">1</text>
<text x="0" y="0" font-size="8.4" text-anchor="middle" fill="#000" transform="translate(235.62 346.19) scale(0.9 1.0)">1.9</text>
<text x="0" y="0" font-size="8.4" text-anchor="middle" fill="#000" transform="translate(249.84 346.19) scale(0.9 1.0)">10.1</text>
<text x="0" y="0" font-size="8.4" text-anchor="middle" fill="#000" transform="translate(264.06 346.19) scale(0.9 1.0)">8.8</text>
<text x="0" y="0" font-size="8.4" text-anchor="middle" fill="#000" transform="translate(278.28 346.19) scale(0.9 1.0)">3.7</text>
<text x="0" y="0" font-size="8.4" text-anchor="middle" fill="#000" transform="translate(292.49 346.19) scale(0.9 1.0)">4.5</text>
<text x="0" y="0" font-size="8.4" text-anchor="middle" fill="#000" transform="translate(136.11 363.86) scale(0.9 1.0)">1.5</text>
<text x="0" y="0" font-size="8.4" text-anchor="middle" fill="#000" transform="translate(150.32 363.86) scale(0.9 1.0)">2</text>
<text x="0" y="0" font-size="8.4" text-anchor="middle" fill="#000" transform="translate(164.54 363.86) scale(0.9 1.0)">6.8</text>
<text x="0" y="0" font-size="8.4" text-anchor="middle" fill="#000" transform="translate(178.76 363.86) scale(0.9 1.0)">2.9</text>
<text x="0" y="0" font-size="8.4" text-anchor="middle" fill="#000" transform="translate(192.98 363.86) scale(0.9 1.0)">5.4</text>
<text x="0" y="0" font-size="8.4" text-anchor="middle" fill="#000" transform="translate(207.19 363.86) scale(0.9 1.0)">3.2</text>
<text x="0" y="0" font-size="8.4" text-anchor="middle" fill="#000" transform="translate(221.41 363.86) scale(0.9 1.0)">1.1</text>
<text x="0" y="0" font-size="8.4" text-anchor="middle" fill="#000" transform="translate(235.62 363.86) scale(0.9 1.0)">2</text>
<text x="0" y="0" font-size="8.4" text-anchor="middle" fill="#000" transform="translate(249.84 363.86) scale(0.9 1.0)">8</text>
<text x="0" y="0" font-size="8.4" text-anchor="middle" fill="#000" transform="translate(264.06 363.86) scale(0.9 1.0)">6.9</text>
<text x="0" y="0" font-size="8.4" text-anchor="middle" fill="#000" transform="translate(278.28 363.86) scale(0.9 1.0)">4</text>
<text x="0" y="0" font-size="8.4" text-anchor="middle" fill="#000" transform="translate(292.49 363.86) scale(0.9 1.0)">4</text>
<line x1="122.5" y1="77.04" x2="129" y2="77.04" stroke="#555" stroke-width="1"/>
<text x="0" y="0" font-size="13.6" text-anchor="end" fill="#222" transform="translate(120.20 83.11) scale(0.9 1.0)">16</text>
<line x1="122.5" y1="94.71" x2="129" y2="94.71" stroke="#555" stroke-width="1"/>
<text x="0" y="0" font-size="13.6" text-anchor="end" fill="#222" transform="translate(120.20 100.78) scale(0.9 1.0)">15</text>
<line x1="122.5" y1="112.39" x2="129" y2="112.39" stroke="#555" stroke-width="1"/>
<text x="0" y="0" font-size="13.6" text-anchor="end" fill="#222" transform="translate(120.20 118.46) scale(0.9 1.0)">14</text>
<line x1="122.5" y1="130.07" x2="129" y2="130.07" stroke="#555" stroke-width="1"/>
<text x="0" y="0" font-size="13.6" text-anchor="end" fill="#222" transform="translate(120.20 136.14) scale(0.9 1.0)">13</text>
<line x1="122.5" y1="147.74" x2="129" y2="147.74" stroke="#555" stroke-width="1"/>
<text x="0" y="0" font-size="13.6" text-anchor="end" fill="#222" transform="translate(120.20 153.81) scale(0.9 1.0)">12</text>
<line x1="122.5" y1="165.42" x2="129" y2="165.42" stroke="#555" stroke-width="1"/>
<text x="0" y="0" font-size="13.6" text-anchor="end" fill="#222" transform="translate(120.20 171.49) scale(0.9 1.0)">11</text>
<line x1="122.5" y1="183.10" x2="129" y2="183.10" stroke="#555" stroke-width="1"/>
<text x="0" y="0" font-size="13.6" text-anchor="end" fill="#222" transform="translate(120.20 189.17) scale(0.9 1.0)">10</text>
<line x1="122.5" y1="200.77" x2="129" y2="200.77" stroke="#555" stroke-width="1"/>
<text x="0" y="0" font-size="13.6" text-anchor="end" fill="#222" transform="translate(120.20 206.84) scale(0.9 1.0)">9</text>
<line x1="122.5" y1="218.45" x2="129" y2="218.45" stroke="#555" stroke-width="1"/>
<text x="0" y="0" font-size="13.6" text-anchor="end" fill="#222" transform="translate(120.20 224.52) scale(0.9 1.0)">8</text>
<line x1="122.5" y1="236.13" x2="129" y2="236.13" stroke="#555" stroke-width="1"/>
<text x="0" y="0" font-size="13.6" text-anchor="end" fill="#222" transform="translate(120.20 242.20) scale(0.9 1.0)">7</text>
<line x1="122.5" y1="253.80" x2="129" y2="253.80" stroke="#555" stroke-width="1"/>
<text x="0" y="0" font-size="13.6" text-anchor="end" fill="#222" transform="translate(120.20 259.87) scale(0.9 1.0)">6</text>
<line x1="122.5" y1="271.48" x2="129" y2="271.48" stroke="#555" stroke-width="1"/>
<text x="0" y="0" font-size="13.6" text-anchor="end" fill="#222" transform="translate(120.20 277.55) scale(0.9 1.0)">5</text>
<line x1="122.5" y1="289.16" x2="129" y2="289.16" stroke="#555" stroke-width="1"/>
<text x="0" y="0" font-size="13.6" text-anchor="end" fill="#222" transform="translate(120.20 295.22) scale(0.9 1.0)">4</text>
<line x1="122.5" y1="306.83" x2="129" y2="306.83" stroke="#555" stroke-width="1"/>
<text x="0" y="0" font-size="13.6" text-anchor="end" fill="#222" transform="translate(120.20 312.90) scale(0.9 1.0)">3</text>
<line x1="122.5" y1="324.51" x2="129" y2="324.51" stroke="#555" stroke-width="1"/>
<text x="0" y="0" font-size="13.6" text-anchor="end" fill="#222" transform="translate(120.20 330.58) scale(0.9 1.0)">2</text>
<line x1="122.5" y1="342.19" x2="129" y2="342.19" stroke="#555" stroke-width="1"/>
<text x="0" y="0" font-size="13.6" text-anchor="end" fill="#222" transform="translate(120.20 348.25) scale(0.9 1.0)">1</text>
<line x1="122.5" y1="359.86" x2="129" y2="359.86" stroke="#555" stroke-width="1"/>
<text x="0" y="0" font-size="13.6" text-anchor="end" fill="#222" transform="translate(120.20 365.93) scale(0.9 1.0)">Average</text>
<line x1="136.11" y1="61.7" x2="136.11" y2="68.2" stroke="#555" stroke-width="1"/>
<text x="0" y="0" font-size="12.4" text-anchor="start" fill="#222" transform="translate(141.31 60.00) rotate(-90) scale(1.0 0.9)">1</text>
<line x1="150.32" y1="61.7" x2="150.32" y2="68.2" stroke="#555" stroke-width="1"/>
<text x="0" y="0" font-size="12.4" text-anchor="start" fill="#222" transform="translate(155.52 60.00) rotate(-90) scale(1.0 0.9)">2</text>
<line x1="164.54" y1="61.7" x2="164.54" y2="68.2" stroke="#555" stroke-width="1"/>
<text x="0" y="0" font-size="12.4" text-anchor="start" fill="#222" transform="translate(169.74 60.00) rotate(-90) scale(1.0 0.9)">3</text>
<line x1="178.76" y1="61.7" x2="178.76" y2="68.2" stroke="#555" stroke-width="1"/>
<text x="0" y="0" font-size="12.4" text-anchor="start" fill="#222" transform="translate(183.96 60.00) rotate(-90) scale(1.0 0.9)">4</text>
<line x1="192.98" y1="61.7" x2="192.98" y2="68.2" stroke="#555" stroke-width="1"/>
<text x="0" y="0" font-size="12.4" text-anchor="start" fill="#222" transform="translate(198.18 60.00) rotate(-90) scale(1.0 0.9)">5</text>
<line x1="207.19" y1="61.7" x2="207.19" y2="68.2" stroke="#555" stroke-width="1"/>
<text x="0" y="0" font-size="12.4" text-anchor="start" fill="#222" transform="translate(212.39 60.00) rotate(-90) scale(1.0 0.9)">6</text>
<line x1="221.41" y1="61.7" x2="221.41" y2="68.2" stroke="#555" stroke-width="1"/>
<text x="0" y="0" font-size="12.4" text-anchor="start" fill="#222" transform="translate(226.61 60.00) rotate(-90) scale(1.0 0.9)">7</text>
<line x1="235.62" y1="61.7" x2="235.62" y2="68.2" stroke="#555" stroke-width="1"/>
<text x="0" y="0" font-size="12.4" text-anchor="start" fill="#222" transform="translate(240.82 60.00) rotate(-90) scale(1.0 0.9)">8</text>
<line x1="249.84" y1="61.7" x2="249.84" y2="68.2" stroke="#555" stroke-width="1"/>
<text x="0" y="0" font-size="12.4" text-anchor="start" fill="#222" transform="translate(255.04 60.00) rotate(-90) scale(1.0 0.9)">10</text>
<line x1="264.06" y1="61.7" x2="264.06" y2="68.2" stroke="#555" stroke-width="1"/>
<text x="0" y="0" font-size="12.4" text-anchor="start" fill="#222" transform="translate(269.26 60.00) rotate(-90) scale(1.0 0.9)">11</text>
<line x1="278.28" y1="61.7" x2="278.28" y2="68.2" stroke="#555" stroke-width="1"/>
<text x="0" y="0" font-size="12.4" text-anchor="start" fill="#222" transform="translate(283.48 60.00) rotate(-90) scale(1.0 0.9)">12</text>
<line x1="292.49" y1="61.7" x2="292.49" y2="68.2" stroke="#555" stroke-width="1"/>
<text x="0" y="0" font-size="12.4" text-anchor="start" fill="#222" transform="translate(297.69 60.00) rotate(-90) scale(1.0 0.9)">Average</text>
<text x="214.30" y="12.10" font-size="12" text-anchor="middle" fill="#222">Environment</text>
<text x="0" y="0" font-size="12.1" text-anchor="middle" fill="#222" transform="translate(69.60 218.45) rotate(-90) scale(1.0 0.88)">Genotype (DY)</text>
<defs><linearGradient id="gA" x1="0" y1="0" x2="0" y2="1"><stop offset="0.0000" stop-color="#fde725"/><stop offset="0.0167" stop-color="#fde725"/><stop offset="0.0333" stop-color="#fde725"/><stop offset="0.0500" stop-color="#fde725"/><stop offset="0.0667" stop-color="#f6e620"/><stop offset="0.0833" stop-color="#eae51a"/><stop offset="0.1000" stop-color="#dde318"/><stop offset="0.1167" stop-color="#d0e11c"/><stop offset="0.1333" stop-color="#c5e021"/><stop offset="0.1500" stop-color="#b8de29"/><stop offset="0.1667" stop-color="#aadc32"/><stop offset="0.1833" stop-color="#a0da39"/><stop offset="0.2000" stop-color="#93d741"/><stop offset="0.2167" stop-color="#86d549"/><stop offset="0.2333" stop-color="#7ad151"/><stop offset="0.2500" stop-color="#70cf57"/><stop offset="0.2667" stop-color="#65cb5e"/><stop offset="0.2833" stop-color="#5ac864"/><stop offset="0.3000" stop-color="#52c569"/><stop offset="0.3167" stop-color="#48c16e"/><stop offset="0.3333" stop-color="#3fbc73"/><stop offset="0.3500" stop-color="#37b878"/><stop offset="0.3667" stop-color="#31b57b"/><stop offset="0.3833" stop-color="#2ab07f"/><stop offset="0.4000" stop-color="#25ac82"/><stop offset="0.4167" stop-color="#22a884"/><stop offset="0.4333" stop-color="#20a386"/><stop offset="0.4500" stop-color="#1f9f88"/><stop offset="0.4667" stop-color="#1f9a8a"/><stop offset="0.4833" stop-color="#1f968b"/><stop offset="0.5000" stop-color="#20928c"/><stop offset="0.5167" stop-color="#228d8d"/><stop offset="0.5333" stop-color="#23898e"/><stop offset="0.5500" stop-color="#25848e"/><stop offset="0.5667" stop-color="#27808e"/><stop offset="0.5833" stop-color="#297b8e"/><stop offset="0.6000" stop-color="#2a778e"/><stop offset="0.6167" stop-color="#2c728e"/><stop offset="0.6333" stop-color="#2e6e8e"/><stop offset="0.6500" stop-color="#306a8e"/><stop offset="0.6667" stop-color="#32658e"/><stop offset="0.6833" stop-color="#34608d"/><stop offset="0.7000" stop-color="#375b8d"/><stop offset="0.7167" stop-color="#39568c"/><stop offset="0.7333" stop-color="#3b518b"/><stop offset="0.7500" stop-color="#3e4c8a"/><stop offset="0.7667" stop-color="#3f4788"/><stop offset="0.7833" stop-color="#424186"/><stop offset="0.8000" stop-color="#443b84"/><stop offset="0.8167" stop-color="#453581"/><stop offset="0.8333" stop-color="#46307e"/><stop offset="0.8500" stop-color="#472a7a"/><stop offset="0.8667" stop-color="#482475"/><stop offset="0.8833" stop-color="#481f70"/><stop offset="0.9000" stop-color="#48186a"/><stop offset="0.9167" stop-color="#471164"/><stop offset="0.9333" stop-color="#460a5d"/><stop offset="0.9500" stop-color="#450457"/><stop offset="0.9667" stop-color="#440154"/><stop offset="0.9833" stop-color="#440154"/><stop offset="1.0000" stop-color="#440154"/></linearGradient></defs>
<rect x="316.8" y="110.3" width="22.599999999999966" height="222.0" fill="url(#gA)" stroke="#555" stroke-width="0.8"/>
<line x1="316.8" y1="124.2" x2="321.3" y2="124.2" stroke="#ddd" stroke-width="1.1"/>
<line x1="334.9" y1="124.2" x2="339.4" y2="124.2" stroke="#ddd" stroke-width="1.1"/>
<text x="344.20" y="127.60" font-size="9.5" text-anchor="start" fill="#333">10.0</text>
<line x1="316.8" y1="177.4" x2="321.3" y2="177.4" stroke="#ddd" stroke-width="1.1"/>
<line x1="334.9" y1="177.4" x2="339.4" y2="177.4" stroke="#ddd" stroke-width="1.1"/>
<text x="344.20" y="180.80" font-size="9.5" text-anchor="start" fill="#333">7.5</text>
<line x1="316.8" y1="230.6" x2="321.3" y2="230.6" stroke="#ddd" stroke-width="1.1"/>
<line x1="334.9" y1="230.6" x2="339.4" y2="230.6" stroke="#ddd" stroke-width="1.1"/>
<text x="344.20" y="234.00" font-size="9.5" text-anchor="start" fill="#333">5.0</text>
<line x1="316.8" y1="284.5" x2="321.3" y2="284.5" stroke="#ddd" stroke-width="1.1"/>
<line x1="334.9" y1="284.5" x2="339.4" y2="284.5" stroke="#ddd" stroke-width="1.1"/>
<text x="344.20" y="287.90" font-size="9.5" text-anchor="start" fill="#333">2.5</text>
<rect x="68.00" y="466.40" width="21.52" height="14.17" fill="#2b758e"/>
<rect x="89.47" y="466.40" width="21.52" height="14.17" fill="#24868e"/>
<rect x="110.95" y="466.40" width="21.52" height="14.17" fill="#20938c"/>
<rect x="132.43" y="466.40" width="21.52" height="14.17" fill="#39558c"/>
<rect x="153.90" y="466.40" width="21.52" height="14.17" fill="#addc30"/>
<rect x="175.38" y="466.40" width="21.52" height="14.17" fill="#39568c"/>
<rect x="196.85" y="466.40" width="21.52" height="14.17" fill="#482979"/>
<rect x="218.32" y="466.40" width="21.52" height="14.17" fill="#46307e"/>
<rect x="239.80" y="466.40" width="21.52" height="14.17" fill="#1f9e89"/>
<rect x="261.27" y="466.40" width="21.52" height="14.17" fill="#46307e"/>
<rect x="282.75" y="466.40" width="21.52" height="14.17" fill="#481467"/>
<rect x="304.22" y="466.40" width="21.52" height="14.17" fill="#306a8e"/>
<rect x="68.00" y="480.52" width="21.52" height="14.17" fill="#2f6b8e"/>
<rect x="89.47" y="480.52" width="21.52" height="14.17" fill="#1fa287"/>
<rect x="110.95" y="480.52" width="21.52" height="14.17" fill="#65cb5e"/>
<rect x="132.43" y="480.52" width="21.52" height="14.17" fill="#3b518b"/>
<rect x="153.90" y="480.52" width="21.52" height="14.17" fill="#1fa188"/>
<rect x="175.38" y="480.52" width="21.52" height="14.17" fill="#453781"/>
<rect x="196.85" y="480.52" width="21.52" height="14.17" fill="#453581"/>
<rect x="218.32" y="480.52" width="21.52" height="14.17" fill="#433e85"/>
<rect x="239.80" y="480.52" width="21.52" height="14.17" fill="#23a983"/>
<rect x="261.27" y="480.52" width="21.52" height="14.17" fill="#472d7b"/>
<rect x="282.75" y="480.52" width="21.52" height="14.17" fill="#481467"/>
<rect x="304.22" y="480.52" width="21.52" height="14.17" fill="#306a8e"/>
<rect x="68.00" y="494.64" width="21.52" height="14.17" fill="#2c718e"/>
<rect x="89.47" y="494.64" width="21.52" height="14.17" fill="#20928c"/>
<rect x="110.95" y="494.64" width="21.52" height="14.17" fill="#25ac82"/>
<rect x="132.43" y="494.64" width="21.52" height="14.17" fill="#3d4e8a"/>
<rect x="153.90" y="494.64" width="21.52" height="14.17" fill="#2cb17e"/>
<rect x="175.38" y="494.64" width="21.52" height="14.17" fill="#3a538b"/>
<rect x="196.85" y="494.64" width="21.52" height="14.17" fill="#443a83"/>
<rect x="218.32" y="494.64" width="21.52" height="14.17" fill="#414287"/>
<rect x="239.80" y="494.64" width="21.52" height="14.17" fill="#67cc5c"/>
<rect x="261.27" y="494.64" width="21.52" height="14.17" fill="#482979"/>
<rect x="282.75" y="494.64" width="21.52" height="14.17" fill="#440154"/>
<rect x="304.22" y="494.64" width="21.52" height="14.17" fill="#2f6c8e"/>
<rect x="68.00" y="508.75" width="21.52" height="14.17" fill="#31668e"/>
<rect x="89.47" y="508.75" width="21.52" height="14.17" fill="#277e8e"/>
<rect x="110.95" y="508.75" width="21.52" height="14.17" fill="#21918c"/>
<rect x="132.43" y="508.75" width="21.52" height="14.17" fill="#3e4c8a"/>
<rect x="153.90" y="508.75" width="21.52" height="14.17" fill="#c2df23"/>
<rect x="175.38" y="508.75" width="21.52" height="14.17" fill="#2c738e"/>
<rect x="196.85" y="508.75" width="21.52" height="14.17" fill="#433e85"/>
<rect x="218.32" y="508.75" width="21.52" height="14.17" fill="#3f4889"/>
<rect x="239.80" y="508.75" width="21.52" height="14.17" fill="#58c765"/>
<rect x="261.27" y="508.75" width="21.52" height="14.17" fill="#46307e"/>
<rect x="282.75" y="508.75" width="21.52" height="14.17" fill="#443a83"/>
<rect x="304.22" y="508.75" width="21.52" height="14.17" fill="#2c738e"/>
<rect x="68.00" y="522.87" width="21.52" height="14.17" fill="#31678e"/>
<rect x="89.47" y="522.87" width="21.52" height="14.17" fill="#32658e"/>
<rect x="110.95" y="522.87" width="21.52" height="14.17" fill="#32648e"/>
<rect x="132.43" y="522.87" width="21.52" height="14.17" fill="#482677"/>
<rect x="153.90" y="522.87" width="21.52" height="14.17" fill="#89d548"/>
<rect x="175.38" y="522.87" width="21.52" height="14.17" fill="#3e4989"/>
<rect x="196.85" y="522.87" width="21.52" height="14.17" fill="#472e7c"/>
<rect x="218.32" y="522.87" width="21.52" height="14.17" fill="#433d84"/>
<rect x="239.80" y="522.87" width="21.52" height="14.17" fill="#21a685"/>
<rect x="261.27" y="522.87" width="21.52" height="14.17" fill="#482475"/>
<rect x="282.75" y="522.87" width="21.52" height="14.17" fill="#3f4889"/>
<rect x="304.22" y="522.87" width="21.52" height="14.17" fill="#34608d"/>
<rect x="68.00" y="536.99" width="21.52" height="14.17" fill="#2b748e"/>
<rect x="89.47" y="536.99" width="21.52" height="14.17" fill="#25858e"/>
<rect x="110.95" y="536.99" width="21.52" height="14.17" fill="#20928c"/>
<rect x="132.43" y="536.99" width="21.52" height="14.17" fill="#39568c"/>
<rect x="153.90" y="536.99" width="21.52" height="14.17" fill="#67cc5c"/>
<rect x="175.38" y="536.99" width="21.52" height="14.17" fill="#3e4c8a"/>
<rect x="196.85" y="536.99" width="21.52" height="14.17" fill="#404588"/>
<rect x="218.32" y="536.99" width="21.52" height="14.17" fill="#3b518b"/>
<rect x="239.80" y="536.99" width="21.52" height="14.17" fill="#90d743"/>
<rect x="261.27" y="536.99" width="21.52" height="14.17" fill="#482576"/>
<rect x="282.75" y="536.99" width="21.52" height="14.17" fill="#424186"/>
<rect x="304.22" y="536.99" width="21.52" height="14.17" fill="#2c738e"/>
<rect x="68.00" y="551.11" width="21.52" height="14.17" fill="#297b8e"/>
<rect x="89.47" y="551.11" width="21.52" height="14.17" fill="#21a685"/>
<rect x="110.95" y="551.11" width="21.52" height="14.17" fill="#54c568"/>
<rect x="132.43" y="551.11" width="21.52" height="14.17" fill="#3b518b"/>
<rect x="153.90" y="551.11" width="21.52" height="14.17" fill="#dde318"/>
<rect x="175.38" y="551.11" width="21.52" height="14.17" fill="#404588"/>
<rect x="196.85" y="551.11" width="21.52" height="14.17" fill="#482677"/>
<rect x="218.32" y="551.11" width="21.52" height="14.17" fill="#463480"/>
<rect x="239.80" y="551.11" width="21.52" height="14.17" fill="#65cb5e"/>
<rect x="261.27" y="551.11" width="21.52" height="14.17" fill="#46307e"/>
<rect x="282.75" y="551.11" width="21.52" height="14.17" fill="#453882"/>
<rect x="304.22" y="551.11" width="21.52" height="14.17" fill="#297a8e"/>
<rect x="68.00" y="565.22" width="21.52" height="14.17" fill="#27808e"/>
<rect x="89.47" y="565.22" width="21.52" height="14.17" fill="#228d8d"/>
<rect x="110.95" y="565.22" width="21.52" height="14.17" fill="#1f978b"/>
<rect x="132.43" y="565.22" width="21.52" height="14.17" fill="#3e4989"/>
<rect x="153.90" y="565.22" width="21.52" height="14.17" fill="#67cc5c"/>
<rect x="175.38" y="565.22" width="21.52" height="14.17" fill="#3f4889"/>
<rect x="196.85" y="565.22" width="21.52" height="14.17" fill="#482475"/>
<rect x="218.32" y="565.22" width="21.52" height="14.17" fill="#424086"/>
<rect x="239.80" y="565.22" width="21.52" height="14.17" fill="#7cd250"/>
<rect x="261.27" y="565.22" width="21.52" height="14.17" fill="#482475"/>
<rect x="282.75" y="565.22" width="21.52" height="14.17" fill="#3b518b"/>
<rect x="304.22" y="565.22" width="21.52" height="14.17" fill="#2c718e"/>
<rect x="68.00" y="579.34" width="21.52" height="14.17" fill="#2d708e"/>
<rect x="89.47" y="579.34" width="21.52" height="14.17" fill="#2db27d"/>
<rect x="110.95" y="579.34" width="21.52" height="14.17" fill="#a5db36"/>
<rect x="132.43" y="579.34" width="21.52" height="14.17" fill="#443983"/>
<rect x="153.90" y="579.34" width="21.52" height="14.17" fill="#228c8d"/>
<rect x="175.38" y="579.34" width="21.52" height="14.17" fill="#3b528b"/>
<rect x="196.85" y="579.34" width="21.52" height="14.17" fill="#3f4788"/>
<rect x="218.32" y="579.34" width="21.52" height="14.17" fill="#39558c"/>
<rect x="239.80" y="579.34" width="21.52" height="14.17" fill="#fde725"/>
<rect x="261.27" y="579.34" width="21.52" height="14.17" fill="#472c7a"/>
<rect x="282.75" y="579.34" width="21.52" height="14.17" fill="#3d4d8a"/>
<rect x="304.22" y="579.34" width="21.52" height="14.17" fill="#287c8e"/>
<rect x="68.00" y="593.46" width="21.52" height="14.17" fill="#2b758e"/>
<rect x="89.47" y="593.46" width="21.52" height="14.17" fill="#25838e"/>
<rect x="110.95" y="593.46" width="21.52" height="14.17" fill="#21918c"/>
<rect x="132.43" y="593.46" width="21.52" height="14.17" fill="#38588c"/>
<rect x="153.90" y="593.46" width="21.52" height="14.17" fill="#27ad81"/>
<rect x="175.38" y="593.46" width="21.52" height="14.17" fill="#355f8d"/>
<rect x="196.85" y="593.46" width="21.52" height="14.17" fill="#423f85"/>
<rect x="218.32" y="593.46" width="21.52" height="14.17" fill="#3e4989"/>
<rect x="239.80" y="593.46" width="21.52" height="14.17" fill="#46c06f"/>
<rect x="261.27" y="593.46" width="21.52" height="14.17" fill="#482878"/>
<rect x="282.75" y="593.46" width="21.52" height="14.17" fill="#38588c"/>
<rect x="304.22" y="593.46" width="21.52" height="14.17" fill="#2d708e"/>
<rect x="68.00" y="607.58" width="21.52" height="14.17" fill="#24868e"/>
<rect x="89.47" y="607.58" width="21.52" height="14.17" fill="#24aa83"/>
<rect x="110.95" y="607.58" width="21.52" height="14.17" fill="#52c569"/>
<rect x="132.43" y="607.58" width="21.52" height="14.17" fill="#3c508b"/>
<rect x="153.90" y="607.58" width="21.52" height="14.17" fill="#a0da39"/>
<rect x="175.38" y="607.58" width="21.52" height="14.17" fill="#472d7b"/>
<rect x="196.85" y="607.58" width="21.52" height="14.17" fill="#453781"/>
<rect x="218.32" y="607.58" width="21.52" height="14.17" fill="#433e85"/>
<rect x="239.80" y="607.58" width="21.52" height="14.17" fill="#7cd250"/>
<rect x="261.27" y="607.58" width="21.52" height="14.17" fill="#472d7b"/>
<rect x="282.75" y="607.58" width="21.52" height="14.17" fill="#3a538b"/>
<rect x="304.22" y="607.58" width="21.52" height="14.17" fill="#297b8e"/>
<rect x="68.00" y="621.69" width="21.52" height="14.17" fill="#218e8d"/>
<rect x="89.47" y="621.69" width="21.52" height="14.17" fill="#32b67a"/>
<rect x="110.95" y="621.69" width="21.52" height="14.17" fill="#69cd5b"/>
<rect x="132.43" y="621.69" width="21.52" height="14.17" fill="#482576"/>
<rect x="153.90" y="621.69" width="21.52" height="14.17" fill="#1e9d89"/>
<rect x="175.38" y="621.69" width="21.52" height="14.17" fill="#3a548c"/>
<rect x="196.85" y="621.69" width="21.52" height="14.17" fill="#443983"/>
<rect x="218.32" y="621.69" width="21.52" height="14.17" fill="#3f4889"/>
<rect x="239.80" y="621.69" width="21.52" height="14.17" fill="#2eb37c"/>
<rect x="261.27" y="621.69" width="21.52" height="14.17" fill="#46337f"/>
<rect x="282.75" y="621.69" width="21.52" height="14.17" fill="#404588"/>
<rect x="304.22" y="621.69" width="21.52" height="14.17" fill="#2b748e"/>
<rect x="68.00" y="635.81" width="21.52" height="14.17" fill="#2a768e"/>
<rect x="89.47" y="635.81" width="21.52" height="14.17" fill="#26828e"/>
<rect x="110.95" y="635.81" width="21.52" height="14.17" fill="#238a8d"/>
<rect x="132.43" y="635.81" width="21.52" height="14.17" fill="#482475"/>
<rect x="153.90" y="635.81" width="21.52" height="14.17" fill="#26ad81"/>
<rect x="175.38" y="635.81" width="21.52" height="14.17" fill="#33638d"/>
<rect x="196.85" y="635.81" width="21.52" height="14.17" fill="#443b84"/>
<rect x="218.32" y="635.81" width="21.52" height="14.17" fill="#3a538b"/>
<rect x="239.80" y="635.81" width="21.52" height="14.17" fill="#26ad81"/>
<rect x="261.27" y="635.81" width="21.52" height="14.17" fill="#472d7b"/>
<rect x="282.75" y="635.81" width="21.52" height="14.17" fill="#3c4f8a"/>
<rect x="304.22" y="635.81" width="21.52" height="14.17" fill="#306a8e"/>
<rect x="68.00" y="649.93" width="21.52" height="14.17" fill="#33638d"/>
<rect x="89.47" y="649.93" width="21.52" height="14.17" fill="#21a585"/>
<rect x="110.95" y="649.93" width="21.52" height="14.17" fill="#7cd250"/>
<rect x="132.43" y="649.93" width="21.52" height="14.17" fill="#433e85"/>
<rect x="153.90" y="649.93" width="21.52" height="14.17" fill="#2cb17e"/>
<rect x="175.38" y="649.93" width="21.52" height="14.17" fill="#39558c"/>
<rect x="196.85" y="649.93" width="21.52" height="14.17" fill="#3e4989"/>
<rect x="218.32" y="649.93" width="21.52" height="14.17" fill="#3b518b"/>
<rect x="239.80" y="649.93" width="21.52" height="14.17" fill="#7cd250"/>
<rect x="261.27" y="649.93" width="21.52" height="14.17" fill="#482878"/>
<rect x="282.75" y="649.93" width="21.52" height="14.17" fill="#3b528b"/>
<rect x="304.22" y="649.93" width="21.52" height="14.17" fill="#2a788e"/>
<rect x="68.00" y="664.05" width="21.52" height="14.17" fill="#2c718e"/>
<rect x="89.47" y="664.05" width="21.52" height="14.17" fill="#218e8d"/>
<rect x="110.95" y="664.05" width="21.52" height="14.17" fill="#20a486"/>
<rect x="132.43" y="664.05" width="21.52" height="14.17" fill="#3b518b"/>
<rect x="153.90" y="664.05" width="21.52" height="14.17" fill="#2ab07f"/>
<rect x="175.38" y="664.05" width="21.52" height="14.17" fill="#3b528b"/>
<rect x="196.85" y="664.05" width="21.52" height="14.17" fill="#424086"/>
<rect x="218.32" y="664.05" width="21.52" height="14.17" fill="#424186"/>
<rect x="239.80" y="664.05" width="21.52" height="14.17" fill="#aadc32"/>
<rect x="261.27" y="664.05" width="21.52" height="14.17" fill="#482979"/>
<rect x="282.75" y="664.05" width="21.52" height="14.17" fill="#433e85"/>
<rect x="304.22" y="664.05" width="21.52" height="14.17" fill="#2c728e"/>
<rect x="68.00" y="678.16" width="21.52" height="14.17" fill="#26828e"/>
<rect x="89.47" y="678.16" width="21.52" height="14.17" fill="#218f8d"/>
<rect x="110.95" y="678.16" width="21.52" height="14.17" fill="#1f988b"/>
<rect x="132.43" y="678.16" width="21.52" height="14.17" fill="#3a538b"/>
<rect x="153.90" y="678.16" width="21.52" height="14.17" fill="#a2da37"/>
<rect x="175.38" y="678.16" width="21.52" height="14.17" fill="#3e4989"/>
<rect x="196.85" y="678.16" width="21.52" height="14.17" fill="#3b518b"/>
<rect x="218.32" y="678.16" width="21.52" height="14.17" fill="#3c508b"/>
<rect x="239.80" y="678.16" width="21.52" height="14.17" fill="#bade28"/>
<rect x="261.27" y="678.16" width="21.52" height="14.17" fill="#472a7a"/>
<rect x="282.75" y="678.16" width="21.52" height="14.17" fill="#3f4788"/>
<rect x="304.22" y="678.16" width="21.52" height="14.17" fill="#297b8e"/>
<rect x="68.00" y="692.28" width="21.52" height="14.17" fill="#2b758e"/>
<rect x="89.47" y="692.28" width="21.52" height="14.17" fill="#20938c"/>
<rect x="110.95" y="692.28" width="21.52" height="14.17" fill="#25ab82"/>
<rect x="132.43" y="692.28" width="21.52" height="14.17" fill="#3f4788"/>
<rect x="153.90" y="692.28" width="21.52" height="14.17" fill="#4ec36b"/>
<rect x="175.38" y="692.28" width="21.52" height="14.17" fill="#3b518b"/>
<rect x="196.85" y="692.28" width="21.52" height="14.17" fill="#443a83"/>
<rect x="218.32" y="692.28" width="21.52" height="14.17" fill="#404588"/>
<rect x="239.80" y="692.28" width="21.52" height="14.17" fill="#5cc863"/>
<rect x="261.27" y="692.28" width="21.52" height="14.17" fill="#472c7a"/>
<rect x="282.75" y="692.28" width="21.52" height="14.17" fill="#423f85"/>
<rect x="304.22" y="692.28" width="21.52" height="14.17" fill="#2c728e"/>
<line x1="89.47" y1="466.4" x2="89.47" y2="706.4" stroke="#111" stroke-width="1"/>
<line x1="110.95" y1="466.4" x2="110.95" y2="706.4" stroke="#111" stroke-width="1"/>
<line x1="132.43" y1="466.4" x2="132.43" y2="706.4" stroke="#111" stroke-width="1"/>
<line x1="153.90" y1="466.4" x2="153.90" y2="706.4" stroke="#111" stroke-width="1"/>
<line x1="175.38" y1="466.4" x2="175.38" y2="706.4" stroke="#111" stroke-width="1"/>
<line x1="196.85" y1="466.4" x2="196.85" y2="706.4" stroke="#111" stroke-width="1"/>
<line x1="218.32" y1="466.4" x2="218.32" y2="706.4" stroke="#111" stroke-width="1"/>
<line x1="239.80" y1="466.4" x2="239.80" y2="706.4" stroke="#111" stroke-width="1"/>
<line x1="261.27" y1="466.4" x2="261.27" y2="706.4" stroke="#111" stroke-width="1"/>
<line x1="282.75" y1="466.4" x2="282.75" y2="706.4" stroke="#111" stroke-width="1"/>
<line x1="304.22" y1="466.4" x2="304.22" y2="706.4" stroke="#111" stroke-width="1"/>
<line x1="68" y1="480.52" x2="325.7" y2="480.52" stroke="#111" stroke-width="1"/>
<line x1="68" y1="494.64" x2="325.7" y2="494.64" stroke="#111" stroke-width="1"/>
<line x1="68" y1="508.75" x2="325.7" y2="508.75" stroke="#111" stroke-width="1"/>
<line x1="68" y1="522.87" x2="325.7" y2="522.87" stroke="#111" stroke-width="1"/>
<line x1="68" y1="536.99" x2="325.7" y2="536.99" stroke="#111" stroke-width="1"/>
<line x1="68" y1="551.11" x2="325.7" y2="551.11" stroke="#111" stroke-width="1"/>
<line x1="68" y1="565.22" x2="325.7" y2="565.22" stroke="#111" stroke-width="1"/>
<line x1="68" y1="579.34" x2="325.7" y2="579.34" stroke="#111" stroke-width="1"/>
<line x1="68" y1="593.46" x2="325.7" y2="593.46" stroke="#111" stroke-width="1"/>
<line x1="68" y1="607.58" x2="325.7" y2="607.58" stroke="#111" stroke-width="1"/>
<line x1="68" y1="621.69" x2="325.7" y2="621.69" stroke="#111" stroke-width="1"/>
<line x1="68" y1="635.81" x2="325.7" y2="635.81" stroke="#111" stroke-width="1"/>
<line x1="68" y1="649.93" x2="325.7" y2="649.93" stroke="#111" stroke-width="1"/>
<line x1="68" y1="664.05" x2="325.7" y2="664.05" stroke="#111" stroke-width="1"/>
<line x1="68" y1="678.16" x2="325.7" y2="678.16" stroke="#111" stroke-width="1"/>
<line x1="68" y1="692.28" x2="325.7" y2="692.28" stroke="#111" stroke-width="1"/>
<rect x="68" y="466.4" width="257.7" height="240.0" fill="none" stroke="#000" stroke-width="1.0"/>
<text x="0" y="0" font-size="5.8" text-anchor="middle" fill="#000" transform="translate(78.74 476.36) scale(0.92 1.0)">20.7</text>
<text x="0" y="0" font-size="5.8" text-anchor="middle" fill="#000" transform="translate(100.21 476.36) scale(0.92 1.0)">23.9</text>
<text x="0" y="0" font-size="5.8" text-anchor="middle" fill="#000" transform="translate(121.69 476.36) scale(0.92 1.0)">26.4</text>
<text x="0" y="0" font-size="5.8" text-anchor="middle" fill="#000" transform="translate(143.16 476.36) scale(0.92 1.0)">15</text>
<text x="0" y="0" font-size="5.8" text-anchor="middle" fill="#000" transform="translate(164.64 476.36) scale(0.92 1.0)">42.6</text>
<text x="0" y="0" font-size="5.8" text-anchor="middle" fill="#000" transform="translate(186.11 476.36) scale(0.92 1.0)">15.2</text>
<text x="0" y="0" font-size="5.8" text-anchor="middle" fill="#000" transform="translate(207.59 476.36) scale(0.92 1.0)">8.4</text>
<text x="0" y="0" font-size="5.8" text-anchor="middle" fill="#000" transform="translate(229.06 476.36) scale(0.92 1.0)">9.5</text>
<text x="0" y="0" font-size="5.8" text-anchor="middle" fill="#000" transform="translate(250.54 476.36) scale(0.92 1.0)">28.3</text>
<text x="0" y="0" font-size="5.8" text-anchor="middle" fill="#000" transform="translate(272.01 476.36) scale(0.92 1.0)">9.4</text>
<text x="0" y="0" font-size="5.8" text-anchor="middle" fill="#000" transform="translate(293.49 476.36) scale(0.92 1.0)">5.5</text>
<text x="0" y="0" font-size="5.8" text-anchor="middle" fill="#000" transform="translate(314.96 476.36) scale(0.92 1.0)">18.6</text>
<text x="0" y="0" font-size="5.8" text-anchor="middle" fill="#000" transform="translate(78.74 490.48) scale(0.92 1.0)">18.7</text>
<text x="0" y="0" font-size="5.8" text-anchor="middle" fill="#000" transform="translate(100.21 490.48) scale(0.92 1.0)">29.2</text>
<text x="0" y="0" font-size="5.8" text-anchor="middle" fill="#000" transform="translate(121.69 490.48) scale(0.92 1.0)">37.5</text>
<text x="0" y="0" font-size="5.8" text-anchor="middle" fill="#000" transform="translate(143.16 490.48) scale(0.92 1.0)">14.3</text>
<text x="0" y="0" font-size="5.8" text-anchor="middle" fill="#000" transform="translate(164.64 490.48) scale(0.92 1.0)">28.7</text>
<text x="0" y="0" font-size="5.8" text-anchor="middle" fill="#000" transform="translate(186.11 490.48) scale(0.92 1.0)">10.4</text>
<text x="0" y="0" font-size="5.8" text-anchor="middle" fill="#000" transform="translate(207.59 490.48) scale(0.92 1.0)">10.1</text>
<text x="0" y="0" font-size="5.8" text-anchor="middle" fill="#000" transform="translate(229.06 490.48) scale(0.92 1.0)">11.4</text>
<text x="0" y="0" font-size="5.8" text-anchor="middle" fill="#000" transform="translate(250.54 490.48) scale(0.92 1.0)">30.4</text>
<text x="0" y="0" font-size="5.8" text-anchor="middle" fill="#000" transform="translate(272.01 490.48) scale(0.92 1.0)">8.9</text>
<text x="0" y="0" font-size="5.8" text-anchor="middle" fill="#000" transform="translate(293.49 490.48) scale(0.92 1.0)">5.5</text>
<text x="0" y="0" font-size="5.8" text-anchor="middle" fill="#000" transform="translate(314.96 490.48) scale(0.92 1.0)">18.6</text>
<text x="0" y="0" font-size="5.8" text-anchor="middle" fill="#000" transform="translate(78.74 504.59) scale(0.92 1.0)">20</text>
<text x="0" y="0" font-size="5.8" text-anchor="middle" fill="#000" transform="translate(100.21 504.59) scale(0.92 1.0)">26</text>
<text x="0" y="0" font-size="5.8" text-anchor="middle" fill="#000" transform="translate(121.69 504.59) scale(0.92 1.0)">30.8</text>
<text x="0" y="0" font-size="5.8" text-anchor="middle" fill="#000" transform="translate(143.16 504.59) scale(0.92 1.0)">13.8</text>
<text x="0" y="0" font-size="5.8" text-anchor="middle" fill="#000" transform="translate(164.64 504.59) scale(0.92 1.0)">31.9</text>
<text x="0" y="0" font-size="5.8" text-anchor="middle" fill="#000" transform="translate(186.11 504.59) scale(0.92 1.0)">14.7</text>
<text x="0" y="0" font-size="5.8" text-anchor="middle" fill="#000" transform="translate(207.59 504.59) scale(0.92 1.0)">10.8</text>
<text x="0" y="0" font-size="5.8" text-anchor="middle" fill="#000" transform="translate(229.06 504.59) scale(0.92 1.0)">12</text>
<text x="0" y="0" font-size="5.8" text-anchor="middle" fill="#000" transform="translate(250.54 504.59) scale(0.92 1.0)">37.8</text>
<text x="0" y="0" font-size="5.8" text-anchor="middle" fill="#000" transform="translate(272.01 504.59) scale(0.92 1.0)">8.4</text>
<text x="0" y="0" font-size="5.8" text-anchor="middle" fill="#000" transform="translate(293.49 504.59) scale(0.92 1.0)">3.2</text>
<text x="0" y="0" font-size="5.8" text-anchor="middle" fill="#000" transform="translate(314.96 504.59) scale(0.92 1.0)">19</text>
<text x="0" y="0" font-size="5.8" text-anchor="middle" fill="#000" transform="translate(78.74 518.71) scale(0.92 1.0)">17.8</text>
<text x="0" y="0" font-size="5.8" text-anchor="middle" fill="#000" transform="translate(100.21 518.71) scale(0.92 1.0)">22.3</text>
<text x="0" y="0" font-size="5.8" text-anchor="middle" fill="#000" transform="translate(121.69 518.71) scale(0.92 1.0)">25.8</text>
<text x="0" y="0" font-size="5.8" text-anchor="middle" fill="#000" transform="translate(143.16 518.71) scale(0.92 1.0)">13.5</text>
<text x="0" y="0" font-size="5.8" text-anchor="middle" fill="#000" transform="translate(164.64 518.71) scale(0.92 1.0)">44.1</text>
<text x="0" y="0" font-size="5.8" text-anchor="middle" fill="#000" transform="translate(186.11 518.71) scale(0.92 1.0)">20.4</text>
<text x="0" y="0" font-size="5.8" text-anchor="middle" fill="#000" transform="translate(207.59 518.71) scale(0.92 1.0)">11.4</text>
<text x="0" y="0" font-size="5.8" text-anchor="middle" fill="#000" transform="translate(229.06 518.71) scale(0.92 1.0)">12.9</text>
<text x="0" y="0" font-size="5.8" text-anchor="middle" fill="#000" transform="translate(250.54 518.71) scale(0.92 1.0)">36.5</text>
<text x="0" y="0" font-size="5.8" text-anchor="middle" fill="#000" transform="translate(272.01 518.71) scale(0.92 1.0)">9.4</text>
<text x="0" y="0" font-size="5.8" text-anchor="middle" fill="#000" transform="translate(293.49 518.71) scale(0.92 1.0)">10.8</text>
<text x="0" y="0" font-size="5.8" text-anchor="middle" fill="#000" transform="translate(314.96 518.71) scale(0.92 1.0)">20.3</text>
<text x="0" y="0" font-size="5.8" text-anchor="middle" fill="#000" transform="translate(78.74 532.83) scale(0.92 1.0)">18</text>
<text x="0" y="0" font-size="5.8" text-anchor="middle" fill="#000" transform="translate(100.21 532.83) scale(0.92 1.0)">17.7</text>
<text x="0" y="0" font-size="5.8" text-anchor="middle" fill="#000" transform="translate(121.69 532.83) scale(0.92 1.0)">17.6</text>
<text x="0" y="0" font-size="5.8" text-anchor="middle" fill="#000" transform="translate(143.16 532.83) scale(0.92 1.0)">8</text>
<text x="0" y="0" font-size="5.8" text-anchor="middle" fill="#000" transform="translate(164.64 532.83) scale(0.92 1.0)">40.2</text>
<text x="0" y="0" font-size="5.8" text-anchor="middle" fill="#000" transform="translate(186.11 532.83) scale(0.92 1.0)">13.2</text>
<text x="0" y="0" font-size="5.8" text-anchor="middle" fill="#000" transform="translate(207.59 532.83) scale(0.92 1.0)">9.1</text>
<text x="0" y="0" font-size="5.8" text-anchor="middle" fill="#000" transform="translate(229.06 532.83) scale(0.92 1.0)">11.2</text>
<text x="0" y="0" font-size="5.8" text-anchor="middle" fill="#000" transform="translate(250.54 532.83) scale(0.92 1.0)">29.9</text>
<text x="0" y="0" font-size="5.8" text-anchor="middle" fill="#000" transform="translate(272.01 532.83) scale(0.92 1.0)">7.7</text>
<text x="0" y="0" font-size="5.8" text-anchor="middle" fill="#000" transform="translate(293.49 532.83) scale(0.92 1.0)">13</text>
<text x="0" y="0" font-size="5.8" text-anchor="middle" fill="#000" transform="translate(314.96 532.83) scale(0.92 1.0)">16.9</text>
<text x="0" y="0" font-size="5.8" text-anchor="middle" fill="#000" transform="translate(78.74 546.95) scale(0.92 1.0)">20.6</text>
<text x="0" y="0" font-size="5.8" text-anchor="middle" fill="#000" transform="translate(100.21 546.95) scale(0.92 1.0)">23.7</text>
<text x="0" y="0" font-size="5.8" text-anchor="middle" fill="#000" transform="translate(121.69 546.95) scale(0.92 1.0)">26.1</text>
<text x="0" y="0" font-size="5.8" text-anchor="middle" fill="#000" transform="translate(143.16 546.95) scale(0.92 1.0)">15.2</text>
<text x="0" y="0" font-size="5.8" text-anchor="middle" fill="#000" transform="translate(164.64 546.95) scale(0.92 1.0)">37.8</text>
<text x="0" y="0" font-size="5.8" text-anchor="middle" fill="#000" transform="translate(186.11 546.95) scale(0.92 1.0)">13.5</text>
<text x="0" y="0" font-size="5.8" text-anchor="middle" fill="#000" transform="translate(207.59 546.95) scale(0.92 1.0)">12.4</text>
<text x="0" y="0" font-size="5.8" text-anchor="middle" fill="#000" transform="translate(229.06 546.95) scale(0.92 1.0)">14.3</text>
<text x="0" y="0" font-size="5.8" text-anchor="middle" fill="#000" transform="translate(250.54 546.95) scale(0.92 1.0)">40.8</text>
<text x="0" y="0" font-size="5.8" text-anchor="middle" fill="#000" transform="translate(272.01 546.95) scale(0.92 1.0)">7.9</text>
<text x="0" y="0" font-size="5.8" text-anchor="middle" fill="#000" transform="translate(293.49 546.95) scale(0.92 1.0)">11.9</text>
<text x="0" y="0" font-size="5.8" text-anchor="middle" fill="#000" transform="translate(314.96 546.95) scale(0.92 1.0)">20.4</text>
<text x="0" y="0" font-size="5.8" text-anchor="middle" fill="#000" transform="translate(78.74 561.06) scale(0.92 1.0)">21.8</text>
<text x="0" y="0" font-size="5.8" text-anchor="middle" fill="#000" transform="translate(100.21 561.06) scale(0.92 1.0)">29.8</text>
<text x="0" y="0" font-size="5.8" text-anchor="middle" fill="#000" transform="translate(121.69 561.06) scale(0.92 1.0)">36.2</text>
<text x="0" y="0" font-size="5.8" text-anchor="middle" fill="#000" transform="translate(143.16 561.06) scale(0.92 1.0)">14.4</text>
<text x="0" y="0" font-size="5.8" text-anchor="middle" fill="#000" transform="translate(164.64 561.06) scale(0.92 1.0)">45.9</text>
<text x="0" y="0" font-size="5.8" text-anchor="middle" fill="#000" transform="translate(186.11 561.06) scale(0.92 1.0)">12.5</text>
<text x="0" y="0" font-size="5.8" text-anchor="middle" fill="#000" transform="translate(207.59 561.06) scale(0.92 1.0)">8.1</text>
<text x="0" y="0" font-size="5.8" text-anchor="middle" fill="#000" transform="translate(229.06 561.06) scale(0.92 1.0)">9.9</text>
<text x="0" y="0" font-size="5.8" text-anchor="middle" fill="#000" transform="translate(250.54 561.06) scale(0.92 1.0)">37.5</text>
<text x="0" y="0" font-size="5.8" text-anchor="middle" fill="#000" transform="translate(272.01 561.06) scale(0.92 1.0)">9.4</text>
<text x="0" y="0" font-size="5.8" text-anchor="middle" fill="#000" transform="translate(293.49 561.06) scale(0.92 1.0)">10.5</text>
<text x="0" y="0" font-size="5.8" text-anchor="middle" fill="#000" transform="translate(314.96 561.06) scale(0.92 1.0)">21.5</text>
<text x="0" y="0" font-size="5.8" text-anchor="middle" fill="#000" transform="translate(78.74 575.18) scale(0.92 1.0)">22.7</text>
<text x="0" y="0" font-size="5.8" text-anchor="middle" fill="#000" transform="translate(100.21 575.18) scale(0.92 1.0)">25.1</text>
<text x="0" y="0" font-size="5.8" text-anchor="middle" fill="#000" transform="translate(121.69 575.18) scale(0.92 1.0)">27</text>
<text x="0" y="0" font-size="5.8" text-anchor="middle" fill="#000" transform="translate(143.16 575.18) scale(0.92 1.0)">13.2</text>
<text x="0" y="0" font-size="5.8" text-anchor="middle" fill="#000" transform="translate(164.64 575.18) scale(0.92 1.0)">37.7</text>
<text x="0" y="0" font-size="5.8" text-anchor="middle" fill="#000" transform="translate(186.11 575.18) scale(0.92 1.0)">13</text>
<text x="0" y="0" font-size="5.8" text-anchor="middle" fill="#000" transform="translate(207.59 575.18) scale(0.92 1.0)">7.7</text>
<text x="0" y="0" font-size="5.8" text-anchor="middle" fill="#000" transform="translate(229.06 575.18) scale(0.92 1.0)">11.8</text>
<text x="0" y="0" font-size="5.8" text-anchor="middle" fill="#000" transform="translate(250.54 575.18) scale(0.92 1.0)">39.4</text>
<text x="0" y="0" font-size="5.8" text-anchor="middle" fill="#000" transform="translate(272.01 575.18) scale(0.92 1.0)">7.6</text>
<text x="0" y="0" font-size="5.8" text-anchor="middle" fill="#000" transform="translate(293.49 575.18) scale(0.92 1.0)">14.4</text>
<text x="0" y="0" font-size="5.8" text-anchor="middle" fill="#000" transform="translate(314.96 575.18) scale(0.92 1.0)">20</text>
<text x="0" y="0" font-size="5.8" text-anchor="middle" fill="#000" transform="translate(78.74 589.30) scale(0.92 1.0)">19.6</text>
<text x="0" y="0" font-size="5.8" text-anchor="middle" fill="#000" transform="translate(100.21 589.30) scale(0.92 1.0)">32.2</text>
<text x="0" y="0" font-size="5.8" text-anchor="middle" fill="#000" transform="translate(121.69 589.30) scale(0.92 1.0)">42.2</text>
<text x="0" y="0" font-size="5.8" text-anchor="middle" fill="#000" transform="translate(143.16 589.30) scale(0.92 1.0)">10.7</text>
<text x="0" y="0" font-size="5.8" text-anchor="middle" fill="#000" transform="translate(164.64 589.30) scale(0.92 1.0)">24.9</text>
<text x="0" y="0" font-size="5.8" text-anchor="middle" fill="#000" transform="translate(186.11 589.30) scale(0.92 1.0)">14.5</text>
<text x="0" y="0" font-size="5.8" text-anchor="middle" fill="#000" transform="translate(207.59 589.30) scale(0.92 1.0)">12.8</text>
<text x="0" y="0" font-size="5.8" text-anchor="middle" fill="#000" transform="translate(229.06 589.30) scale(0.92 1.0)">15.1</text>
<text x="0" y="0" font-size="5.8" text-anchor="middle" fill="#000" transform="translate(250.54 589.30) scale(0.92 1.0)">48.2</text>
<text x="0" y="0" font-size="5.8" text-anchor="middle" fill="#000" transform="translate(272.01 589.30) scale(0.92 1.0)">8.8</text>
<text x="0" y="0" font-size="5.8" text-anchor="middle" fill="#000" transform="translate(293.49 589.30) scale(0.92 1.0)">13.6</text>
<text x="0" y="0" font-size="5.8" text-anchor="middle" fill="#000" transform="translate(314.96 589.30) scale(0.92 1.0)">22</text>
<text x="0" y="0" font-size="5.8" text-anchor="middle" fill="#000" transform="translate(78.74 603.42) scale(0.92 1.0)">20.7</text>
<text x="0" y="0" font-size="5.8" text-anchor="middle" fill="#000" transform="translate(100.21 603.42) scale(0.92 1.0)">23.4</text>
<text x="0" y="0" font-size="5.8" text-anchor="middle" fill="#000" transform="translate(121.69 603.42) scale(0.92 1.0)">25.8</text>
<text x="0" y="0" font-size="5.8" text-anchor="middle" fill="#000" transform="translate(143.16 603.42) scale(0.92 1.0)">15.4</text>
<text x="0" y="0" font-size="5.8" text-anchor="middle" fill="#000" transform="translate(164.64 603.42) scale(0.92 1.0)">31.2</text>
<text x="0" y="0" font-size="5.8" text-anchor="middle" fill="#000" transform="translate(186.11 603.42) scale(0.92 1.0)">16.7</text>
<text x="0" y="0" font-size="5.8" text-anchor="middle" fill="#000" transform="translate(207.59 603.42) scale(0.92 1.0)">11.5</text>
<text x="0" y="0" font-size="5.8" text-anchor="middle" fill="#000" transform="translate(229.06 603.42) scale(0.92 1.0)">13.2</text>
<text x="0" y="0" font-size="5.8" text-anchor="middle" fill="#000" transform="translate(250.54 603.42) scale(0.92 1.0)">35</text>
<text x="0" y="0" font-size="5.8" text-anchor="middle" fill="#000" transform="translate(272.01 603.42) scale(0.92 1.0)">8.2</text>
<text x="0" y="0" font-size="5.8" text-anchor="middle" fill="#000" transform="translate(293.49 603.42) scale(0.92 1.0)">15.4</text>
<text x="0" y="0" font-size="5.8" text-anchor="middle" fill="#000" transform="translate(314.96 603.42) scale(0.92 1.0)">19.7</text>
<text x="0" y="0" font-size="5.8" text-anchor="middle" fill="#000" transform="translate(78.74 617.54) scale(0.92 1.0)">23.9</text>
<text x="0" y="0" font-size="5.8" text-anchor="middle" fill="#000" transform="translate(100.21 617.54) scale(0.92 1.0)">30.6</text>
<text x="0" y="0" font-size="5.8" text-anchor="middle" fill="#000" transform="translate(121.69 617.54) scale(0.92 1.0)">35.9</text>
<text x="0" y="0" font-size="5.8" text-anchor="middle" fill="#000" transform="translate(143.16 617.54) scale(0.92 1.0)">14.1</text>
<text x="0" y="0" font-size="5.8" text-anchor="middle" fill="#000" transform="translate(164.64 617.54) scale(0.92 1.0)">41.8</text>
<text x="0" y="0" font-size="5.8" text-anchor="middle" fill="#000" transform="translate(186.11 617.54) scale(0.92 1.0)">8.9</text>
<text x="0" y="0" font-size="5.8" text-anchor="middle" fill="#000" transform="translate(207.59 617.54) scale(0.92 1.0)">10.4</text>
<text x="0" y="0" font-size="5.8" text-anchor="middle" fill="#000" transform="translate(229.06 617.54) scale(0.92 1.0)">11.4</text>
<text x="0" y="0" font-size="5.8" text-anchor="middle" fill="#000" transform="translate(250.54 617.54) scale(0.92 1.0)">39.4</text>
<text x="0" y="0" font-size="5.8" text-anchor="middle" fill="#000" transform="translate(272.01 617.54) scale(0.92 1.0)">9</text>
<text x="0" y="0" font-size="5.8" text-anchor="middle" fill="#000" transform="translate(293.49 617.54) scale(0.92 1.0)">14.8</text>
<text x="0" y="0" font-size="5.8" text-anchor="middle" fill="#000" transform="translate(314.96 617.54) scale(0.92 1.0)">21.8</text>
<text x="0" y="0" font-size="5.8" text-anchor="middle" fill="#000" transform="translate(78.74 631.65) scale(0.92 1.0)">25.2</text>
<text x="0" y="0" font-size="5.8" text-anchor="middle" fill="#000" transform="translate(100.21 631.65) scale(0.92 1.0)">32.9</text>
<text x="0" y="0" font-size="5.8" text-anchor="middle" fill="#000" transform="translate(121.69 631.65) scale(0.92 1.0)">38</text>
<text x="0" y="0" font-size="5.8" text-anchor="middle" fill="#000" transform="translate(143.16 631.65) scale(0.92 1.0)">7.8</text>
<text x="0" y="0" font-size="5.8" text-anchor="middle" fill="#000" transform="translate(164.64 631.65) scale(0.92 1.0)">28</text>
<text x="0" y="0" font-size="5.8" text-anchor="middle" fill="#000" transform="translate(186.11 631.65) scale(0.92 1.0)">14.9</text>
<text x="0" y="0" font-size="5.8" text-anchor="middle" fill="#000" transform="translate(207.59 631.65) scale(0.92 1.0)">10.6</text>
<text x="0" y="0" font-size="5.8" text-anchor="middle" fill="#000" transform="translate(229.06 631.65) scale(0.92 1.0)">12.9</text>
<text x="0" y="0" font-size="5.8" text-anchor="middle" fill="#000" transform="translate(250.54 631.65) scale(0.92 1.0)">32.3</text>
<text x="0" y="0" font-size="5.8" text-anchor="middle" fill="#000" transform="translate(272.01 631.65) scale(0.92 1.0)">9.8</text>
<text x="0" y="0" font-size="5.8" text-anchor="middle" fill="#000" transform="translate(293.49 631.65) scale(0.92 1.0)">12.4</text>
<text x="0" y="0" font-size="5.8" text-anchor="middle" fill="#000" transform="translate(314.96 631.65) scale(0.92 1.0)">20.5</text>
<text x="0" y="0" font-size="5.8" text-anchor="middle" fill="#000" transform="translate(78.74 645.77) scale(0.92 1.0)">20.9</text>
<text x="0" y="0" font-size="5.8" text-anchor="middle" fill="#000" transform="translate(100.21 645.77) scale(0.92 1.0)">22.9</text>
<text x="0" y="0" font-size="5.8" text-anchor="middle" fill="#000" transform="translate(121.69 645.77) scale(0.92 1.0)">24.6</text>
<text x="0" y="0" font-size="5.8" text-anchor="middle" fill="#000" transform="translate(143.16 645.77) scale(0.92 1.0)">7.7</text>
<text x="0" y="0" font-size="5.8" text-anchor="middle" fill="#000" transform="translate(164.64 645.77) scale(0.92 1.0)">31</text>
<text x="0" y="0" font-size="5.8" text-anchor="middle" fill="#000" transform="translate(186.11 645.77) scale(0.92 1.0)">17.4</text>
<text x="0" y="0" font-size="5.8" text-anchor="middle" fill="#000" transform="translate(207.59 645.77) scale(0.92 1.0)">11</text>
<text x="0" y="0" font-size="5.8" text-anchor="middle" fill="#000" transform="translate(229.06 645.77) scale(0.92 1.0)">14.8</text>
<text x="0" y="0" font-size="5.8" text-anchor="middle" fill="#000" transform="translate(250.54 645.77) scale(0.92 1.0)">31</text>
<text x="0" y="0" font-size="5.8" text-anchor="middle" fill="#000" transform="translate(272.01 645.77) scale(0.92 1.0)">9.0</text>
<text x="0" y="0" font-size="5.8" text-anchor="middle" fill="#000" transform="translate(293.49 645.77) scale(0.92 1.0)">14</text>
<text x="0" y="0" font-size="5.8" text-anchor="middle" fill="#000" transform="translate(314.96 645.77) scale(0.92 1.0)">18.6</text>
<text x="0" y="0" font-size="5.8" text-anchor="middle" fill="#000" transform="translate(78.74 659.89) scale(0.92 1.0)">17.4</text>
<text x="0" y="0" font-size="5.8" text-anchor="middle" fill="#000" transform="translate(100.21 659.89) scale(0.92 1.0)">29.7</text>
<text x="0" y="0" font-size="5.8" text-anchor="middle" fill="#000" transform="translate(121.69 659.89) scale(0.92 1.0)">39.3</text>
<text x="0" y="0" font-size="5.8" text-anchor="middle" fill="#000" transform="translate(143.16 659.89) scale(0.92 1.0)">11.4</text>
<text x="0" y="0" font-size="5.8" text-anchor="middle" fill="#000" transform="translate(164.64 659.89) scale(0.92 1.0)">32</text>
<text x="0" y="0" font-size="5.8" text-anchor="middle" fill="#000" transform="translate(186.11 659.89) scale(0.92 1.0)">15.1</text>
<text x="0" y="0" font-size="5.8" text-anchor="middle" fill="#000" transform="translate(207.59 659.89) scale(0.92 1.0)">13.1</text>
<text x="0" y="0" font-size="5.8" text-anchor="middle" fill="#000" transform="translate(229.06 659.89) scale(0.92 1.0)">14.3</text>
<text x="0" y="0" font-size="5.8" text-anchor="middle" fill="#000" transform="translate(250.54 659.89) scale(0.92 1.0)">39.4</text>
<text x="0" y="0" font-size="5.8" text-anchor="middle" fill="#000" transform="translate(272.01 659.89) scale(0.92 1.0)">8.2</text>
<text x="0" y="0" font-size="5.8" text-anchor="middle" fill="#000" transform="translate(293.49 659.89) scale(0.92 1.0)">14.6</text>
<text x="0" y="0" font-size="5.8" text-anchor="middle" fill="#000" transform="translate(314.96 659.89) scale(0.92 1.0)">21.3</text>
<text x="0" y="0" font-size="5.8" text-anchor="middle" fill="#000" transform="translate(78.74 674.01) scale(0.92 1.0)">20</text>
<text x="0" y="0" font-size="5.8" text-anchor="middle" fill="#000" transform="translate(100.21 674.01) scale(0.92 1.0)">25.3</text>
<text x="0" y="0" font-size="5.8" text-anchor="middle" fill="#000" transform="translate(121.69 674.01) scale(0.92 1.0)">29.5</text>
<text x="0" y="0" font-size="5.8" text-anchor="middle" fill="#000" transform="translate(143.16 674.01) scale(0.92 1.0)">14.4</text>
<text x="0" y="0" font-size="5.8" text-anchor="middle" fill="#000" transform="translate(164.64 674.01) scale(0.92 1.0)">31.8</text>
<text x="0" y="0" font-size="5.8" text-anchor="middle" fill="#000" transform="translate(186.11 674.01) scale(0.92 1.0)">14.6</text>
<text x="0" y="0" font-size="5.8" text-anchor="middle" fill="#000" transform="translate(207.59 674.01) scale(0.92 1.0)">11.8</text>
<text x="0" y="0" font-size="5.8" text-anchor="middle" fill="#000" transform="translate(229.06 674.01) scale(0.92 1.0)">11.9</text>
<text x="0" y="0" font-size="5.8" text-anchor="middle" fill="#000" transform="translate(250.54 674.01) scale(0.92 1.0)">42.5</text>
<text x="0" y="0" font-size="5.8" text-anchor="middle" fill="#000" transform="translate(272.01 674.01) scale(0.92 1.0)">8.4</text>
<text x="0" y="0" font-size="5.8" text-anchor="middle" fill="#000" transform="translate(293.49 674.01) scale(0.92 1.0)">11.4</text>
<text x="0" y="0" font-size="5.8" text-anchor="middle" fill="#000" transform="translate(314.96 674.01) scale(0.92 1.0)">20.2</text>
<text x="0" y="0" font-size="5.8" text-anchor="middle" fill="#000" transform="translate(78.74 688.12) scale(0.92 1.0)">23.2</text>
<text x="0" y="0" font-size="5.8" text-anchor="middle" fill="#000" transform="translate(100.21 688.12) scale(0.92 1.0)">25.5</text>
<text x="0" y="0" font-size="5.8" text-anchor="middle" fill="#000" transform="translate(121.69 688.12) scale(0.92 1.0)">27.2</text>
<text x="0" y="0" font-size="5.8" text-anchor="middle" fill="#000" transform="translate(143.16 688.12) scale(0.92 1.0)">14.8</text>
<text x="0" y="0" font-size="5.8" text-anchor="middle" fill="#000" transform="translate(164.64 688.12) scale(0.92 1.0)">41.9</text>
<text x="0" y="0" font-size="5.8" text-anchor="middle" fill="#000" transform="translate(186.11 688.12) scale(0.92 1.0)">13.2</text>
<text x="0" y="0" font-size="5.8" text-anchor="middle" fill="#000" transform="translate(207.59 688.12) scale(0.92 1.0)">14.3</text>
<text x="0" y="0" font-size="5.8" text-anchor="middle" fill="#000" transform="translate(229.06 688.12) scale(0.92 1.0)">14.2</text>
<text x="0" y="0" font-size="5.8" text-anchor="middle" fill="#000" transform="translate(250.54 688.12) scale(0.92 1.0)">43.5</text>
<text x="0" y="0" font-size="5.8" text-anchor="middle" fill="#000" transform="translate(272.01 688.12) scale(0.92 1.0)">8.6</text>
<text x="0" y="0" font-size="5.8" text-anchor="middle" fill="#000" transform="translate(293.49 688.12) scale(0.92 1.0)">12.7</text>
<text x="0" y="0" font-size="5.8" text-anchor="middle" fill="#000" transform="translate(314.96 688.12) scale(0.92 1.0)">21.7</text>
<text x="0" y="0" font-size="5.8" text-anchor="middle" fill="#000" transform="translate(78.74 702.24) scale(0.92 1.0)">20.7</text>
<text x="0" y="0" font-size="5.8" text-anchor="middle" fill="#000" transform="translate(100.21 702.24) scale(0.92 1.0)">26.3</text>
<text x="0" y="0" font-size="5.8" text-anchor="middle" fill="#000" transform="translate(121.69 702.24) scale(0.92 1.0)">30.7</text>
<text x="0" y="0" font-size="5.8" text-anchor="middle" fill="#000" transform="translate(143.16 702.24) scale(0.92 1.0)">12.7</text>
<text x="0" y="0" font-size="5.8" text-anchor="middle" fill="#000" transform="translate(164.64 702.24) scale(0.92 1.0)">35.7</text>
<text x="0" y="0" font-size="5.8" text-anchor="middle" fill="#000" transform="translate(186.11 702.24) scale(0.92 1.0)">14.3</text>
<text x="0" y="0" font-size="5.8" text-anchor="middle" fill="#000" transform="translate(207.59 702.24) scale(0.92 1.0)">10.8</text>
<text x="0" y="0" font-size="5.8" text-anchor="middle" fill="#000" transform="translate(229.06 702.24) scale(0.92 1.0)">12.5</text>
<text x="0" y="0" font-size="5.8" text-anchor="middle" fill="#000" transform="translate(250.54 702.24) scale(0.92 1.0)">36.9</text>
<text x="0" y="0" font-size="5.8" text-anchor="middle" fill="#000" transform="translate(272.01 702.24) scale(0.92 1.0)">8.7</text>
<text x="0" y="0" font-size="5.8" text-anchor="middle" fill="#000" transform="translate(293.49 702.24) scale(0.92 1.0)">11.5</text>
<text x="0" y="0" font-size="5.8" text-anchor="middle" fill="#000" transform="translate(314.96 702.24) scale(0.92 1.0)">20.1</text>
<line x1="63.6" y1="473.46" x2="68" y2="473.46" stroke="#999" stroke-width="1.2"/>
<text x="0" y="0" font-size="8.6" text-anchor="end" fill="#222" transform="translate(62.10 477.04) scale(0.9 1.0)">16</text>
<line x1="63.6" y1="487.58" x2="68" y2="487.58" stroke="#999" stroke-width="1.2"/>
<text x="0" y="0" font-size="8.6" text-anchor="end" fill="#222" transform="translate(62.10 491.16) scale(0.9 1.0)">15</text>
<line x1="63.6" y1="501.69" x2="68" y2="501.69" stroke="#999" stroke-width="1.2"/>
<text x="0" y="0" font-size="8.6" text-anchor="end" fill="#222" transform="translate(62.10 505.27) scale(0.9 1.0)">14</text>
<line x1="63.6" y1="515.81" x2="68" y2="515.81" stroke="#999" stroke-width="1.2"/>
<text x="0" y="0" font-size="8.6" text-anchor="end" fill="#222" transform="translate(62.10 519.39) scale(0.9 1.0)">13</text>
<line x1="63.6" y1="529.93" x2="68" y2="529.93" stroke="#999" stroke-width="1.2"/>
<text x="0" y="0" font-size="8.6" text-anchor="end" fill="#222" transform="translate(62.10 533.51) scale(0.9 1.0)">12</text>
<line x1="63.6" y1="544.05" x2="68" y2="544.05" stroke="#999" stroke-width="1.2"/>
<text x="0" y="0" font-size="8.6" text-anchor="end" fill="#222" transform="translate(62.10 547.63) scale(0.9 1.0)">11</text>
<line x1="63.6" y1="558.16" x2="68" y2="558.16" stroke="#999" stroke-width="1.2"/>
<text x="0" y="0" font-size="8.6" text-anchor="end" fill="#222" transform="translate(62.10 561.74) scale(0.9 1.0)">10</text>
<line x1="63.6" y1="572.28" x2="68" y2="572.28" stroke="#999" stroke-width="1.2"/>
<text x="0" y="0" font-size="8.6" text-anchor="end" fill="#222" transform="translate(62.10 575.86) scale(0.9 1.0)">9</text>
<line x1="63.6" y1="586.40" x2="68" y2="586.40" stroke="#999" stroke-width="1.2"/>
<text x="0" y="0" font-size="8.6" text-anchor="end" fill="#222" transform="translate(62.10 589.98) scale(0.9 1.0)">8</text>
<line x1="63.6" y1="600.52" x2="68" y2="600.52" stroke="#999" stroke-width="1.2"/>
<text x="0" y="0" font-size="8.6" text-anchor="end" fill="#222" transform="translate(62.10 604.10) scale(0.9 1.0)">7</text>
<line x1="63.6" y1="614.64" x2="68" y2="614.64" stroke="#999" stroke-width="1.2"/>
<text x="0" y="0" font-size="8.6" text-anchor="end" fill="#222" transform="translate(62.10 618.21) scale(0.9 1.0)">6</text>
<line x1="63.6" y1="628.75" x2="68" y2="628.75" stroke="#999" stroke-width="1.2"/>
<text x="0" y="0" font-size="8.6" text-anchor="end" fill="#222" transform="translate(62.10 632.33) scale(0.9 1.0)">5</text>
<line x1="63.6" y1="642.87" x2="68" y2="642.87" stroke="#999" stroke-width="1.2"/>
<text x="0" y="0" font-size="8.6" text-anchor="end" fill="#222" transform="translate(62.10 646.45) scale(0.9 1.0)">4</text>
<line x1="63.6" y1="656.99" x2="68" y2="656.99" stroke="#999" stroke-width="1.2"/>
<text x="0" y="0" font-size="8.6" text-anchor="end" fill="#222" transform="translate(62.10 660.57) scale(0.9 1.0)">3</text>
<line x1="63.6" y1="671.11" x2="68" y2="671.11" stroke="#999" stroke-width="1.2"/>
<text x="0" y="0" font-size="8.6" text-anchor="end" fill="#222" transform="translate(62.10 674.68) scale(0.9 1.0)">2</text>
<line x1="63.6" y1="685.22" x2="68" y2="685.22" stroke="#999" stroke-width="1.2"/>
<text x="0" y="0" font-size="8.6" text-anchor="end" fill="#222" transform="translate(62.10 688.80) scale(0.9 1.0)">1</text>
<line x1="63.6" y1="699.34" x2="68" y2="699.34" stroke="#999" stroke-width="1.2"/>
<text x="0" y="0" font-size="8.6" text-anchor="end" fill="#222" transform="translate(62.10 702.92) scale(0.9 1.0)">Average</text>
<line x1="78.74" y1="462.0" x2="78.74" y2="466.4" stroke="#999" stroke-width="1.2"/>
<text x="0" y="0" font-size="8.0" text-anchor="start" fill="#222" transform="translate(81.64 461.20) rotate(-90) scale(1.0 0.9)">1</text>
<line x1="100.21" y1="462.0" x2="100.21" y2="466.4" stroke="#999" stroke-width="1.2"/>
<text x="0" y="0" font-size="8.0" text-anchor="start" fill="#222" transform="translate(103.11 461.20) rotate(-90) scale(1.0 0.9)">2</text>
<line x1="121.69" y1="462.0" x2="121.69" y2="466.4" stroke="#999" stroke-width="1.2"/>
<text x="0" y="0" font-size="8.0" text-anchor="start" fill="#222" transform="translate(124.59 461.20) rotate(-90) scale(1.0 0.9)">3</text>
<line x1="143.16" y1="462.0" x2="143.16" y2="466.4" stroke="#999" stroke-width="1.2"/>
<text x="0" y="0" font-size="8.0" text-anchor="start" fill="#222" transform="translate(146.06 461.20) rotate(-90) scale(1.0 0.9)">4</text>
<line x1="164.64" y1="462.0" x2="164.64" y2="466.4" stroke="#999" stroke-width="1.2"/>
<text x="0" y="0" font-size="8.0" text-anchor="start" fill="#222" transform="translate(167.54 461.20) rotate(-90) scale(1.0 0.9)">5</text>
<line x1="186.11" y1="462.0" x2="186.11" y2="466.4" stroke="#999" stroke-width="1.2"/>
<text x="0" y="0" font-size="8.0" text-anchor="start" fill="#222" transform="translate(189.01 461.20) rotate(-90) scale(1.0 0.9)">6</text>
<line x1="207.59" y1="462.0" x2="207.59" y2="466.4" stroke="#999" stroke-width="1.2"/>
<text x="0" y="0" font-size="8.0" text-anchor="start" fill="#222" transform="translate(210.49 461.20) rotate(-90) scale(1.0 0.9)">7</text>
<line x1="229.06" y1="462.0" x2="229.06" y2="466.4" stroke="#999" stroke-width="1.2"/>
<text x="0" y="0" font-size="8.0" text-anchor="start" fill="#222" transform="translate(231.96 461.20) rotate(-90) scale(1.0 0.9)">8</text>
<line x1="250.54" y1="462.0" x2="250.54" y2="466.4" stroke="#999" stroke-width="1.2"/>
<text x="0" y="0" font-size="8.0" text-anchor="start" fill="#222" transform="translate(253.44 461.20) rotate(-90) scale(1.0 0.9)">10</text>
<line x1="272.01" y1="462.0" x2="272.01" y2="466.4" stroke="#999" stroke-width="1.2"/>
<text x="0" y="0" font-size="8.0" text-anchor="start" fill="#222" transform="translate(274.91 461.20) rotate(-90) scale(1.0 0.9)">11</text>
<line x1="293.49" y1="462.0" x2="293.49" y2="466.4" stroke="#999" stroke-width="1.2"/>
<text x="0" y="0" font-size="8.0" text-anchor="start" fill="#222" transform="translate(296.39 461.20) rotate(-90) scale(1.0 0.9)">12</text>
<line x1="314.96" y1="462.0" x2="314.96" y2="466.4" stroke="#999" stroke-width="1.2"/>
<text x="0" y="0" font-size="8.0" text-anchor="start" fill="#222" transform="translate(317.86 461.20) rotate(-90) scale(1.0 0.9)">Average</text>
<text x="0" y="0" font-size="9" text-anchor="middle" fill="#222" transform="translate(196.85 431.30) scale(0.83 1.0)">Environment</text>
<text x="0" y="0" font-size="7.6" text-anchor="middle" fill="#222" transform="translate(30.40 586.40) rotate(-90) scale(1.0 0.9)">Genotype (WY)</text>
<defs><linearGradient id="gC" x1="0" y1="0" x2="0" y2="1"><stop offset="0.0000" stop-color="#fde725"/><stop offset="0.0167" stop-color="#fde725"/><stop offset="0.0333" stop-color="#fde725"/><stop offset="0.0500" stop-color="#fde725"/><stop offset="0.0667" stop-color="#f6e620"/><stop offset="0.0833" stop-color="#ece51b"/><stop offset="0.1000" stop-color="#dfe318"/><stop offset="0.1167" stop-color="#d2e21b"/><stop offset="0.1333" stop-color="#c5e021"/><stop offset="0.1500" stop-color="#bade28"/><stop offset="0.1667" stop-color="#addc30"/><stop offset="0.1833" stop-color="#a0da39"/><stop offset="0.2000" stop-color="#93d741"/><stop offset="0.2167" stop-color="#86d549"/><stop offset="0.2333" stop-color="#7cd250"/><stop offset="0.2500" stop-color="#70cf57"/><stop offset="0.2667" stop-color="#65cb5e"/><stop offset="0.2833" stop-color="#5ac864"/><stop offset="0.3000" stop-color="#52c569"/><stop offset="0.3167" stop-color="#48c16e"/><stop offset="0.3333" stop-color="#3fbc73"/><stop offset="0.3500" stop-color="#37b878"/><stop offset="0.3667" stop-color="#31b57b"/><stop offset="0.3833" stop-color="#2ab07f"/><stop offset="0.4000" stop-color="#25ac82"/><stop offset="0.4167" stop-color="#22a785"/><stop offset="0.4333" stop-color="#20a386"/><stop offset="0.4500" stop-color="#1f9f88"/><stop offset="0.4667" stop-color="#1f9a8a"/><stop offset="0.4833" stop-color="#1f958b"/><stop offset="0.5000" stop-color="#20928c"/><stop offset="0.5167" stop-color="#228d8d"/><stop offset="0.5333" stop-color="#23888e"/><stop offset="0.5500" stop-color="#25838e"/><stop offset="0.5667" stop-color="#27808e"/><stop offset="0.5833" stop-color="#297b8e"/><stop offset="0.6000" stop-color="#2a768e"/><stop offset="0.6167" stop-color="#2c718e"/><stop offset="0.6333" stop-color="#2e6e8e"/><stop offset="0.6500" stop-color="#30698e"/><stop offset="0.6667" stop-color="#32648e"/><stop offset="0.6833" stop-color="#355f8d"/><stop offset="0.7000" stop-color="#375a8c"/><stop offset="0.7167" stop-color="#39558c"/><stop offset="0.7333" stop-color="#3c508b"/><stop offset="0.7500" stop-color="#3e4a89"/><stop offset="0.7667" stop-color="#404588"/><stop offset="0.7833" stop-color="#424086"/><stop offset="0.8000" stop-color="#443a83"/><stop offset="0.8167" stop-color="#463480"/><stop offset="0.8333" stop-color="#472e7c"/><stop offset="0.8500" stop-color="#482979"/><stop offset="0.8667" stop-color="#482374"/><stop offset="0.8833" stop-color="#481c6e"/><stop offset="0.9000" stop-color="#481668"/><stop offset="0.9167" stop-color="#471063"/><stop offset="0.9333" stop-color="#46085c"/><stop offset="0.9500" stop-color="#440154"/><stop offset="0.9667" stop-color="#440154"/><stop offset="0.9833" stop-color="#440154"/><stop offset="1.0000" stop-color="#440154"/></linearGradient></defs>
<rect x="336.4" y="518" width="14.5" height="140.70000000000005" fill="url(#gC)" stroke="#444" stroke-width="0.8"/>
<line x1="336.4" y1="548.8" x2="339.4" y2="548.8" stroke="#ddd" stroke-width="1.1"/>
<line x1="347.9" y1="548.8" x2="350.9" y2="548.8" stroke="#ddd" stroke-width="1.1"/>
<text x="0" y="0" font-size="7" text-anchor="start" fill="#333" transform="translate(354.50 551.30) scale(0.85 1.0)">40</text>
<line x1="336.4" y1="576.8" x2="339.4" y2="576.8" stroke="#ddd" stroke-width="1.1"/>
<line x1="347.9" y1="576.8" x2="350.9" y2="576.8" stroke="#ddd" stroke-width="1.1"/>
<text x="0" y="0" font-size="7" text-anchor="start" fill="#333" transform="translate(354.50 579.30) scale(0.85 1.0)">30</text>
<line x1="336.4" y1="604.6" x2="339.4" y2="604.6" stroke="#ddd" stroke-width="1.1"/>
<line x1="347.9" y1="604.6" x2="350.9" y2="604.6" stroke="#ddd" stroke-width="1.1"/>
<text x="0" y="0" font-size="7" text-anchor="start" fill="#333" transform="translate(354.50 607.10) scale(0.85 1.0)">20</text>
<line x1="336.4" y1="632.9" x2="339.4" y2="632.9" stroke="#ddd" stroke-width="1.1"/>
<line x1="347.9" y1="632.9" x2="350.9" y2="632.9" stroke="#ddd" stroke-width="1.1"/>
<text x="0" y="0" font-size="7" text-anchor="start" fill="#333" transform="translate(354.50 635.40) scale(0.85 1.0)">10</text>
<rect x="421.7" y="68.2" width="170.90000000000003" height="300.0" fill="#f0f0f0"/>
<g clip-path="url(#clB)"><defs><clipPath id="clB"><rect x="421.7" y="68.2" width="170.90000000000003" height="300.0"/></clipPath></defs>
<polyline points="430.90,324.27 446.20,315.50 461.50,166.43 476.80,268.74 492.10,224.89 507.40,268.74 522.70,347.66 538.00,321.35 553.30,81.66 568.60,119.66 583.90,268.74" fill="none" stroke="#F8766D" stroke-width="0.8" stroke-opacity="0.85" stroke-linejoin="round"/>
<polyline points="430.90,341.81 446.20,309.66 461.50,154.74 476.80,257.04 492.10,195.66 507.40,280.43 522.70,350.58 538.00,330.12 553.30,128.43 568.60,128.43 583.90,271.66" fill="none" stroke="#E68613" stroke-width="0.8" stroke-opacity="0.85" stroke-linejoin="round"/>
<polyline points="430.90,350.58 446.20,327.20 461.50,116.74 476.80,277.51 492.10,207.35 507.40,277.51 522.70,341.81 538.00,318.43 553.30,140.12 568.60,195.66 583.90,245.35" fill="none" stroke="#CD9600" stroke-width="0.8" stroke-opacity="0.85" stroke-linejoin="round"/>
<polyline points="430.90,335.97 446.20,318.43 461.50,245.35 476.80,330.12 492.10,251.20 507.40,303.81 522.70,347.66 538.00,318.43 553.30,151.82 568.60,154.74 583.90,227.81" fill="none" stroke="#ABA300" stroke-width="0.8" stroke-opacity="0.85" stroke-linejoin="round"/>
<polyline points="430.90,330.12 446.20,300.89 461.50,157.66 476.80,309.66 492.10,286.27 507.40,292.12 522.70,344.73 538.00,312.58 553.30,99.20 568.60,137.20 583.90,254.12" fill="none" stroke="#7CAE00" stroke-width="0.8" stroke-opacity="0.85" stroke-linejoin="round"/>
<polyline points="430.90,333.04 446.20,321.35 461.50,224.89 476.80,286.27 492.10,227.81 507.40,277.51 522.70,347.66 538.00,318.43 553.30,137.20 568.60,140.12 583.90,230.74" fill="none" stroke="#0CB702" stroke-width="0.8" stroke-opacity="0.85" stroke-linejoin="round"/>
<polyline points="430.90,321.35 446.20,303.81 461.50,151.82 476.80,295.04 492.10,257.04 507.40,257.04 522.70,344.73 538.00,318.43 553.30,125.51 568.60,181.05 583.90,233.66" fill="none" stroke="#00BE67" stroke-width="0.8" stroke-opacity="0.85" stroke-linejoin="round"/>
<polyline points="430.90,344.73 446.20,335.97 461.50,204.43 476.80,292.12 492.10,239.51 507.40,312.58 522.70,344.73 538.00,318.43 553.30,96.28 568.60,140.12 583.90,239.51" fill="none" stroke="#00C19A" stroke-width="0.8" stroke-opacity="0.85" stroke-linejoin="round"/>
<polyline points="430.90,347.66 446.20,303.81 461.50,189.82 476.80,286.27 492.10,221.97 507.40,259.97 522.70,350.58 538.00,318.43 553.30,148.89 568.60,166.43 583.90,245.35" fill="none" stroke="#00BFC4" stroke-width="0.8" stroke-opacity="0.85" stroke-linejoin="round"/>
<polyline points="430.90,341.81 446.20,324.27 461.50,148.89 476.80,295.04 492.10,201.51 507.40,286.27 522.70,347.66 538.00,330.12 553.30,134.28 568.60,198.58 583.90,271.66" fill="none" stroke="#00B8E7" stroke-width="0.8" stroke-opacity="0.85" stroke-linejoin="round"/>
<polyline points="430.90,327.20 446.20,309.66 461.50,93.36 476.80,303.81 492.10,207.35 507.40,271.66 522.70,330.12 538.00,295.04 553.30,128.43 568.60,181.05 583.90,221.97" fill="none" stroke="#00A9FF" stroke-width="0.8" stroke-opacity="0.85" stroke-linejoin="round"/>
<polyline points="430.90,335.97 446.20,333.04 461.50,236.58 476.80,292.12 492.10,233.66 507.40,297.97 522.70,356.43 538.00,338.89 553.30,145.97 568.60,219.05 583.90,251.20" fill="none" stroke="#8494FF" stroke-width="0.8" stroke-opacity="0.85" stroke-linejoin="round"/>
<polyline points="430.90,327.20 446.20,324.27 461.50,178.12 476.80,303.81 492.10,143.05 507.40,292.12 522.70,344.73 538.00,315.50 553.30,195.66 568.60,175.20 583.90,265.81" fill="none" stroke="#C77CFF" stroke-width="0.8" stroke-opacity="0.85" stroke-linejoin="round"/>
<polyline points="430.90,324.27 446.20,333.04 461.50,192.74 476.80,297.97 492.10,207.35 507.40,289.20 522.70,347.66 538.00,315.50 553.30,175.20 568.60,210.28 583.90,312.58" fill="none" stroke="#ED68ED" stroke-width="0.8" stroke-opacity="0.85" stroke-linejoin="round"/>
<polyline points="430.90,309.66 446.20,315.50 461.50,166.43 476.80,286.27 492.10,216.12 507.40,297.97 522.70,341.81 538.00,315.50 553.30,204.43 568.60,230.74 583.90,324.27" fill="none" stroke="#FF61CC" stroke-width="0.8" stroke-opacity="0.85" stroke-linejoin="round"/>
<polyline points="430.90,333.04 446.20,333.04 461.50,219.05 476.80,289.20 492.10,195.66 507.40,286.27 522.70,344.73 538.00,321.35 553.30,181.05 568.60,227.81 583.90,303.81" fill="none" stroke="#FF68A1" stroke-width="0.8" stroke-opacity="0.85" stroke-linejoin="round"/>
<path d="M430.90,329.54 L434.40,333.04 L430.90,336.54 L427.40,333.04Z" fill="#000"/>
<path d="M446.20,314.93 L449.70,318.43 L446.20,321.93 L442.70,318.43Z" fill="#000"/>
<path d="M461.50,174.62 L465.00,178.12 L461.50,181.62 L458.00,178.12Z" fill="#000"/>
<path d="M476.80,288.62 L480.30,292.12 L476.80,295.62 L473.30,292.12Z" fill="#000"/>
<path d="M492.10,215.55 L495.60,219.05 L492.10,222.55 L488.60,219.05Z" fill="#000"/>
<path d="M507.40,281.02 L510.90,284.52 L507.40,288.02 L503.90,284.52Z" fill="#000"/>
<path d="M522.70,341.23 L526.20,344.73 L522.70,348.23 L519.20,344.73Z" fill="#000"/>
<path d="M538.00,314.93 L541.50,318.43 L538.00,321.93 L534.50,318.43Z" fill="#000"/>
<path d="M553.30,139.55 L556.80,143.05 L553.30,146.55 L549.80,143.05Z" fill="#000"/>
<path d="M568.60,171.70 L572.10,175.20 L568.60,178.70 L565.10,175.20Z" fill="#000"/>
<path d="M583.90,257.34 L587.40,260.84 L583.90,264.34 L580.40,260.84Z" fill="#000"/>
</g>
<line x1="421.05" y1="68.2" x2="593.4" y2="68.2" stroke="#999" stroke-width="1.2"/>
<line x1="421.7" y1="67.60000000000001" x2="421.7" y2="369.0" stroke="#444" stroke-width="1.3"/>
<line x1="592.6" y1="67.60000000000001" x2="592.6" y2="369.0" stroke="#111" stroke-width="1.6"/>
<line x1="421.05" y1="368.2" x2="593.4" y2="368.2" stroke="#111" stroke-width="1.6"/>
<line x1="430.90" y1="368.2" x2="430.90" y2="373.7" stroke="#333" stroke-width="1"/>
<text x="430.90" y="387.70" font-size="12" text-anchor="middle" fill="#222">1</text>
<line x1="446.20" y1="368.2" x2="446.20" y2="373.7" stroke="#333" stroke-width="1"/>
<text x="446.20" y="387.70" font-size="12" text-anchor="middle" fill="#222">2</text>
<line x1="461.50" y1="368.2" x2="461.50" y2="373.7" stroke="#333" stroke-width="1"/>
<text x="461.50" y="387.70" font-size="12" text-anchor="middle" fill="#222">3</text>
<line x1="476.80" y1="368.2" x2="476.80" y2="373.7" stroke="#333" stroke-width="1"/>
<text x="476.80" y="387.70" font-size="12" text-anchor="middle" fill="#222">4</text>
<line x1="492.10" y1="368.2" x2="492.10" y2="373.7" stroke="#333" stroke-width="1"/>
<text x="492.10" y="387.70" font-size="12" text-anchor="middle" fill="#222">5</text>
<line x1="507.40" y1="368.2" x2="507.40" y2="373.7" stroke="#333" stroke-width="1"/>
<text x="507.40" y="387.70" font-size="12" text-anchor="middle" fill="#222">6</text>
<line x1="522.70" y1="368.2" x2="522.70" y2="373.7" stroke="#333" stroke-width="1"/>
<text x="522.70" y="387.70" font-size="12" text-anchor="middle" fill="#222">7</text>
<line x1="538.00" y1="368.2" x2="538.00" y2="373.7" stroke="#333" stroke-width="1"/>
<text x="538.00" y="387.70" font-size="12" text-anchor="middle" fill="#222">8</text>
<line x1="553.30" y1="368.2" x2="553.30" y2="373.7" stroke="#333" stroke-width="1"/>
<text x="553.30" y="387.70" font-size="12" text-anchor="middle" fill="#222">10</text>
<line x1="568.60" y1="368.2" x2="568.60" y2="373.7" stroke="#333" stroke-width="1"/>
<text x="568.60" y="387.70" font-size="12" text-anchor="middle" fill="#222">11</text>
<line x1="583.90" y1="368.2" x2="583.90" y2="373.7" stroke="#333" stroke-width="1"/>
<text x="583.90" y="387.70" font-size="12" text-anchor="middle" fill="#222">12</text>
<line x1="416.2" y1="303.81" x2="421.7" y2="303.81" stroke="#333" stroke-width="1"/>
<text x="413.60" y="308.81" font-size="12" text-anchor="end" fill="#222">2.5</text>
<line x1="416.2" y1="230.74" x2="421.7" y2="230.74" stroke="#333" stroke-width="1"/>
<text x="413.60" y="235.74" font-size="12" text-anchor="end" fill="#222">5.0</text>
<line x1="416.2" y1="157.66" x2="421.7" y2="157.66" stroke="#333" stroke-width="1"/>
<text x="413.60" y="162.66" font-size="12" text-anchor="end" fill="#222">7.5</text>
<line x1="416.2" y1="84.59" x2="421.7" y2="84.59" stroke="#333" stroke-width="1"/>
<text x="413.60" y="89.59" font-size="12" text-anchor="end" fill="#222">10.0</text>
<text x="507.15" y="402.30" font-size="12" text-anchor="middle" fill="#222">Environment</text>
<text x="0" y="0" font-size="12.3" text-anchor="middle" fill="#222" transform="translate(384.00 218.20) rotate(-90)">Genotype(DY)</text>
<line x1="610.8" y1="88.30" x2="625.2" y2="88.30" stroke="#F8766D" stroke-width="1.7" stroke-opacity="0.5"/>
<text x="0" y="0" font-size="10.3" text-anchor="start" fill="#1a1a1a" transform="translate(632.70 93.10) scale(0.88 1.0)">1</text>
<line x1="610.8" y1="106.08" x2="625.2" y2="106.08" stroke="#E68613" stroke-width="1.7" stroke-opacity="0.5"/>
<text x="0" y="0" font-size="10.3" text-anchor="start" fill="#1a1a1a" transform="translate(632.70 110.88) scale(0.88 1.0)">2</text>
<line x1="610.8" y1="123.86" x2="625.2" y2="123.86" stroke="#CD9600" stroke-width="1.7" stroke-opacity="0.6"/>
<text x="0" y="0" font-size="10.3" text-anchor="start" fill="#1a1a1a" transform="translate(632.70 128.66) scale(0.88 1.0)">3</text>
<line x1="610.8" y1="141.64" x2="625.2" y2="141.64" stroke="#ABA300" stroke-width="1.7" stroke-opacity="0.6"/>
<text x="0" y="0" font-size="10.3" text-anchor="start" fill="#1a1a1a" transform="translate(632.70 146.44) scale(0.88 1.0)">4</text>
<line x1="610.8" y1="159.42" x2="625.2" y2="159.42" stroke="#7CAE00" stroke-width="1.7" stroke-opacity="0.45"/>
<text x="0" y="0" font-size="10.3" text-anchor="start" fill="#1a1a1a" transform="translate(632.70 164.22) scale(0.88 1.0)">5</text>
<line x1="610.8" y1="177.20" x2="625.2" y2="177.20" stroke="#0CB702" stroke-width="1.7" stroke-opacity="0.6"/>
<text x="0" y="0" font-size="10.3" text-anchor="start" fill="#1a1a1a" transform="translate(632.70 182.00) scale(0.88 1.0)">6</text>
<line x1="610.8" y1="194.98" x2="625.2" y2="194.98" stroke="#00BE67" stroke-width="1.7" stroke-opacity="0.6"/>
<text x="0" y="0" font-size="10.3" text-anchor="start" fill="#1a1a1a" transform="translate(632.70 199.78) scale(0.88 1.0)">7</text>
<line x1="610.8" y1="212.76" x2="625.2" y2="212.76" stroke="#00C19A" stroke-width="1.7" stroke-opacity="0.6"/>
<text x="0" y="0" font-size="10.3" text-anchor="start" fill="#1a1a1a" transform="translate(632.70 217.56) scale(0.88 1.0)">8</text>
<line x1="610.8" y1="230.54" x2="625.2" y2="230.54" stroke="#00BFC4" stroke-width="1.7" stroke-opacity="0.45"/>
<text x="0" y="0" font-size="10.3" text-anchor="start" fill="#1a1a1a" transform="translate(632.70 235.34) scale(0.88 1.0)">9</text>
<line x1="610.8" y1="248.32" x2="625.2" y2="248.32" stroke="#00B8E7" stroke-width="1.7" stroke-opacity="0.6"/>
<text x="0" y="0" font-size="10.3" text-anchor="start" fill="#1a1a1a" transform="translate(632.70 253.12) scale(0.88 1.0)">10</text>
<line x1="610.8" y1="266.10" x2="625.2" y2="266.10" stroke="#00A9FF" stroke-width="1.7" stroke-opacity="0.8"/>
<text x="0" y="0" font-size="10.3" text-anchor="start" fill="#1a1a1a" transform="translate(632.70 270.90) scale(0.88 1.0)">11</text>
<line x1="610.8" y1="283.88" x2="625.2" y2="283.88" stroke="#8494FF" stroke-width="1.7" stroke-opacity="0.55"/>
<text x="0" y="0" font-size="10.3" text-anchor="start" fill="#1a1a1a" transform="translate(632.70 288.68) scale(0.88 1.0)">12</text>
<line x1="610.8" y1="301.66" x2="625.2" y2="301.66" stroke="#C77CFF" stroke-width="1.7" stroke-opacity="0.45"/>
<text x="0" y="0" font-size="10.3" text-anchor="start" fill="#1a1a1a" transform="translate(632.70 306.46) scale(0.88 1.0)">13</text>
<line x1="610.8" y1="319.44" x2="625.2" y2="319.44" stroke="#ED68ED" stroke-width="1.7" stroke-opacity="0.6"/>
<text x="0" y="0" font-size="10.3" text-anchor="start" fill="#1a1a1a" transform="translate(632.70 324.24) scale(0.88 1.0)">14</text>
<line x1="610.8" y1="337.22" x2="625.2" y2="337.22" stroke="#FF61CC" stroke-width="1.7" stroke-opacity="0.75"/>
<text x="0" y="0" font-size="10.3" text-anchor="start" fill="#1a1a1a" transform="translate(632.70 342.02) scale(0.88 1.0)">15</text>
<line x1="610.8" y1="355.00" x2="625.2" y2="355.00" stroke="#FF68A1" stroke-width="1.7" stroke-opacity="0.55"/>
<text x="0" y="0" font-size="10.3" text-anchor="start" fill="#1a1a1a" transform="translate(632.70 359.80) scale(0.88 1.0)">16</text>
<rect x="391.8" y="466.4" width="258.49999999999994" height="240.0" fill="#f0f0f0"/>
<g clip-path="url(#clD)"><defs><clipPath id="clD"><rect x="391.8" y="466.4" width="258.49999999999994" height="240.0"/></clipPath></defs>
<polyline points="405.60,598.89 428.68,587.72 451.76,579.46 474.84,639.69 497.92,508.06 521.00,647.46 544.08,642.11 567.16,642.60 590.24,500.29 613.32,669.80 636.40,649.89" fill="none" stroke="#F8766D" stroke-width="0.7" stroke-opacity="0.75" stroke-linejoin="round"/>
<polyline points="405.60,614.43 428.68,588.69 451.76,568.29 474.84,641.63 497.92,557.12 521.00,640.66 544.08,654.26 567.16,653.77 590.24,505.15 613.32,670.77 636.40,656.20" fill="none" stroke="#E68613" stroke-width="0.7" stroke-opacity="0.75" stroke-linejoin="round"/>
<polyline points="405.60,627.06 428.68,567.32 451.76,520.69 474.84,656.20 497.92,556.15 521.00,638.23 544.08,647.94 567.16,642.11 590.24,520.20 613.32,671.74 636.40,640.66" fill="none" stroke="#CD9600" stroke-width="0.7" stroke-opacity="0.75" stroke-linejoin="round"/>
<polyline points="405.60,610.06 428.68,600.34 451.76,592.09 474.84,674.17 497.92,561.00 521.00,627.06 544.08,658.14 567.16,639.69 590.24,561.00 613.32,667.86 636.40,643.57" fill="none" stroke="#ABA300" stroke-width="0.7" stroke-opacity="0.75" stroke-linejoin="round"/>
<polyline points="405.60,589.17 428.68,551.77 451.76,527.00 474.84,673.69 497.92,575.57 521.00,639.20 544.08,660.09 567.16,648.91 590.24,554.69 613.32,663.97 636.40,651.34" fill="none" stroke="#7CAE00" stroke-width="0.7" stroke-opacity="0.75" stroke-linejoin="round"/>
<polyline points="405.60,595.49 428.68,562.95 451.76,537.20 474.84,643.09 497.92,508.55 521.00,668.34 544.08,661.06 567.16,656.20 590.24,520.20 613.32,667.86 636.40,639.69" fill="none" stroke="#0CB702" stroke-width="0.7" stroke-opacity="0.75" stroke-linejoin="round"/>
<polyline points="405.60,611.03 428.68,597.92 451.76,586.26 474.84,636.77 497.92,560.03 521.00,630.46 544.08,655.71 567.16,647.46 590.24,541.58 613.32,671.74 636.40,636.77" fill="none" stroke="#00BE67" stroke-width="0.7" stroke-opacity="0.75" stroke-linejoin="round"/>
<polyline points="405.60,616.37 428.68,555.17 451.76,506.60 474.84,659.60 497.92,590.63 521.00,641.14 544.08,649.40 567.16,638.23 590.24,477.46 613.32,668.83 636.40,645.51" fill="none" stroke="#00C19A" stroke-width="0.7" stroke-opacity="0.75" stroke-linejoin="round"/>
<polyline points="405.60,601.32 428.68,589.66 451.76,580.43 474.84,647.46 497.92,528.46 521.00,648.43 544.08,674.17 567.16,654.26 590.24,520.20 613.32,674.66 636.40,641.63" fill="none" stroke="#00BFC4" stroke-width="0.7" stroke-opacity="0.75" stroke-linejoin="round"/>
<polyline points="405.60,605.69 428.68,566.83 451.76,535.75 474.84,641.63 497.92,488.63 521.00,650.86 544.08,672.23 567.16,663.49 590.24,529.43 613.32,665.91 636.40,660.57" fill="none" stroke="#00B8E7" stroke-width="0.7" stroke-opacity="0.75" stroke-linejoin="round"/>
<polyline points="405.60,611.52 428.68,596.46 451.76,584.80 474.84,637.74 497.92,527.98 521.00,646.00 544.08,651.34 567.16,642.11 590.24,513.40 613.32,673.20 636.40,653.77" fill="none" stroke="#00A9FF" stroke-width="0.7" stroke-opacity="0.75" stroke-linejoin="round"/>
<polyline points="405.60,624.14 428.68,625.60 451.76,626.09 474.84,672.71 497.92,516.32 521.00,647.46 544.08,667.37 567.16,657.17 590.24,566.35 613.32,674.17 636.40,648.43" fill="none" stroke="#8494FF" stroke-width="0.7" stroke-opacity="0.75" stroke-linejoin="round"/>
<polyline points="405.60,625.12 428.68,603.26 451.76,586.26 474.84,646.00 497.92,497.38 521.00,612.49 544.08,656.20 567.16,648.91 590.24,534.29 613.32,665.91 636.40,659.11" fill="none" stroke="#C77CFF" stroke-width="0.7" stroke-opacity="0.75" stroke-linejoin="round"/>
<polyline points="405.60,614.43 428.68,585.29 451.76,561.97 474.84,644.54 497.92,556.63 521.00,640.17 544.08,659.11 567.16,653.29 590.24,527.98 613.32,670.77 636.40,696.03" fill="none" stroke="#ED68ED" stroke-width="0.7" stroke-opacity="0.75" stroke-linejoin="round"/>
<polyline points="405.60,620.74 428.68,569.75 451.76,529.43 474.84,642.11 497.92,572.17 521.00,661.06 544.08,662.51 567.16,656.20 590.24,563.92 613.32,668.34 636.40,684.86" fill="none" stroke="#FF61CC" stroke-width="0.7" stroke-opacity="0.75" stroke-linejoin="round"/>
<polyline points="405.60,611.03 428.68,595.49 451.76,583.35 474.84,638.72 497.92,504.66 521.00,637.74 544.08,670.77 567.16,665.43 590.24,574.12 613.32,665.91 636.40,684.86" fill="none" stroke="#FF68A1" stroke-width="0.7" stroke-opacity="0.75" stroke-linejoin="round"/>
<path d="M405.60,608.73 L407.90,611.03 L405.60,613.33 L403.30,611.03Z" fill="#000"/>
<path d="M428.68,581.53 L430.98,583.83 L428.68,586.13 L426.38,583.83Z" fill="#000"/>
<path d="M451.76,560.16 L454.06,562.46 L451.76,564.76 L449.46,562.46Z" fill="#000"/>
<path d="M474.84,647.59 L477.14,649.89 L474.84,652.19 L472.54,649.89Z" fill="#000"/>
<path d="M497.92,535.88 L500.22,538.18 L497.92,540.48 L495.62,538.18Z" fill="#000"/>
<path d="M521.00,639.81 L523.30,642.11 L521.00,644.41 L518.70,642.11Z" fill="#000"/>
<path d="M544.08,656.81 L546.38,659.11 L544.08,661.41 L541.78,659.11Z" fill="#000"/>
<path d="M567.16,648.56 L569.46,650.86 L567.16,653.16 L564.86,650.86Z" fill="#000"/>
<path d="M590.24,530.05 L592.54,532.35 L590.24,534.65 L587.94,532.35Z" fill="#000"/>
<path d="M613.32,667.01 L615.62,669.31 L613.32,671.61 L611.02,669.31Z" fill="#000"/>
<path d="M636.40,653.41 L638.70,655.71 L636.40,658.01 L634.10,655.71Z" fill="#000"/>
</g>
<line x1="391.0" y1="466.4" x2="651.1999999999999" y2="466.4" stroke="#888" stroke-width="1.3"/>
<line x1="391.8" y1="465.75" x2="391.8" y2="707.1" stroke="#aaa" stroke-width="1.6"/>
<line x1="650.3" y1="465.75" x2="650.3" y2="707.1" stroke="#777" stroke-width="1.8"/>
<line x1="391.0" y1="706.4" x2="651.1999999999999" y2="706.4" stroke="#555" stroke-width="1.4"/>
<line x1="405.60" y1="706.4" x2="405.60" y2="710.9" stroke="#666" stroke-width="1.3"/>
<text x="405.60" y="719.10" font-size="8.5" text-anchor="middle" fill="#222">1</text>
<line x1="428.68" y1="706.4" x2="428.68" y2="710.9" stroke="#666" stroke-width="1.3"/>
<text x="428.68" y="719.10" font-size="8.5" text-anchor="middle" fill="#222">2</text>
<line x1="451.76" y1="706.4" x2="451.76" y2="710.9" stroke="#666" stroke-width="1.3"/>
<text x="451.76" y="719.10" font-size="8.5" text-anchor="middle" fill="#222">3</text>
<line x1="474.84" y1="706.4" x2="474.84" y2="710.9" stroke="#666" stroke-width="1.3"/>
<text x="474.84" y="719.10" font-size="8.5" text-anchor="middle" fill="#222">4</text>
<line x1="497.92" y1="706.4" x2="497.92" y2="710.9" stroke="#666" stroke-width="1.3"/>
<text x="497.92" y="719.10" font-size="8.5" text-anchor="middle" fill="#222">5</text>
<line x1="521.00" y1="706.4" x2="521.00" y2="710.9" stroke="#666" stroke-width="1.3"/>
<text x="521.00" y="719.10" font-size="8.5" text-anchor="middle" fill="#222">6</text>
<line x1="544.08" y1="706.4" x2="544.08" y2="710.9" stroke="#666" stroke-width="1.3"/>
<text x="544.08" y="719.10" font-size="8.5" text-anchor="middle" fill="#222">7</text>
<line x1="567.16" y1="706.4" x2="567.16" y2="710.9" stroke="#666" stroke-width="1.3"/>
<text x="567.16" y="719.10" font-size="8.5" text-anchor="middle" fill="#222">8</text>
<line x1="590.24" y1="706.4" x2="590.24" y2="710.9" stroke="#666" stroke-width="1.3"/>
<text x="590.24" y="719.10" font-size="8.5" text-anchor="middle" fill="#222">10</text>
<line x1="613.32" y1="706.4" x2="613.32" y2="710.9" stroke="#666" stroke-width="1.3"/>
<text x="613.32" y="719.10" font-size="8.5" text-anchor="middle" fill="#222">11</text>
<line x1="636.40" y1="706.4" x2="636.40" y2="710.9" stroke="#666" stroke-width="1.3"/>
<text x="636.40" y="719.10" font-size="8.5" text-anchor="middle" fill="#222">12</text>
<line x1="387.3" y1="663.00" x2="391.8" y2="663.00" stroke="#666" stroke-width="1.3"/>
<text x="0" y="0" font-size="8.5" text-anchor="end" fill="#222" transform="translate(386.50 666.60) scale(0.9 1.0)">10</text>
<line x1="387.3" y1="614.43" x2="391.8" y2="614.43" stroke="#666" stroke-width="1.3"/>
<text x="0" y="0" font-size="8.5" text-anchor="end" fill="#222" transform="translate(386.50 618.03) scale(0.9 1.0)">20</text>
<line x1="387.3" y1="565.86" x2="391.8" y2="565.86" stroke="#666" stroke-width="1.3"/>
<text x="0" y="0" font-size="8.5" text-anchor="end" fill="#222" transform="translate(386.50 569.46) scale(0.9 1.0)">30</text>
<line x1="387.3" y1="517.29" x2="391.8" y2="517.29" stroke="#666" stroke-width="1.3"/>
<text x="0" y="0" font-size="8.5" text-anchor="end" fill="#222" transform="translate(386.50 520.89) scale(0.9 1.0)">40</text>
<line x1="387.3" y1="468.72" x2="391.8" y2="468.72" stroke="#666" stroke-width="1.3"/>
<text x="0" y="0" font-size="8.5" text-anchor="end" fill="#222" transform="translate(386.50 472.32) scale(0.9 1.0)">50</text>
<text x="0" y="0" font-size="8" text-anchor="middle" fill="#222" transform="translate(521.05 728.00) scale(0.92 1.0)">Environment</text>
<text x="0" y="0" font-size="7.7" text-anchor="middle" fill="#222" transform="translate(375.00 586.40) rotate(-90) scale(1.0 0.9)">Genotype(WY)</text>
<line x1="661.7" y1="504.10" x2="670.7" y2="504.10" stroke="#F8766D" stroke-width="1.6" stroke-opacity="0.5"/>
<text x="675.80" y="506.40" font-size="6.5" text-anchor="start" fill="#333">1</text>
<line x1="661.7" y1="515.35" x2="670.7" y2="515.35" stroke="#E68613" stroke-width="1.6" stroke-opacity="0.3"/>
<text x="675.80" y="517.65" font-size="6.5" text-anchor="start" fill="#333">2</text>
<line x1="661.7" y1="526.60" x2="670.7" y2="526.60" stroke="#CD9600" stroke-width="1.6" stroke-opacity="0.75"/>
<text x="675.80" y="528.90" font-size="6.5" text-anchor="start" fill="#333">3</text>
<line x1="661.7" y1="537.85" x2="670.7" y2="537.85" stroke="#ABA300" stroke-width="1.6" stroke-opacity="0.4"/>
<text x="675.80" y="540.15" font-size="6.5" text-anchor="start" fill="#333">4</text>
<line x1="661.7" y1="549.10" x2="670.7" y2="549.10" stroke="#7CAE00" stroke-width="1.6" stroke-opacity="0.4"/>
<text x="675.80" y="551.40" font-size="6.5" text-anchor="start" fill="#333">5</text>
<line x1="661.7" y1="560.35" x2="670.7" y2="560.35" stroke="#0CB702" stroke-width="1.6" stroke-opacity="0.95"/>
<text x="675.80" y="562.65" font-size="6.5" text-anchor="start" fill="#333">6</text>
<line x1="661.7" y1="571.60" x2="670.7" y2="571.60" stroke="#00BE67" stroke-width="1.6" stroke-opacity="0.55"/>
<text x="675.80" y="573.90" font-size="6.5" text-anchor="start" fill="#333">7</text>
<line x1="661.7" y1="582.85" x2="670.7" y2="582.85" stroke="#00C19A" stroke-width="1.6" stroke-opacity="0.5"/>
<text x="675.80" y="585.15" font-size="6.5" text-anchor="start" fill="#333">8</text>
<line x1="661.7" y1="594.10" x2="670.7" y2="594.10" stroke="#00BFC4" stroke-width="1.6" stroke-opacity="0.9"/>
<text x="675.80" y="596.40" font-size="6.5" text-anchor="start" fill="#333">9</text>
<line x1="661.7" y1="605.35" x2="670.7" y2="605.35" stroke="#00B8E7" stroke-width="1.6" stroke-opacity="0.45"/>
<text x="675.80" y="607.65" font-size="6.5" text-anchor="start" fill="#333">10</text>
<line x1="661.7" y1="616.60" x2="670.7" y2="616.60" stroke="#00A9FF" stroke-width="1.6" stroke-opacity="0.4"/>
<text x="675.80" y="618.90" font-size="6.5" text-anchor="start" fill="#333">11</text>
<line x1="661.7" y1="627.85" x2="670.7" y2="627.85" stroke="#8494FF" stroke-width="1.6" stroke-opacity="0.75"/>
<text x="675.80" y="630.15" font-size="6.5" text-anchor="start" fill="#333">12</text>
<line x1="661.7" y1="639.10" x2="670.7" y2="639.10" stroke="#C77CFF" stroke-width="1.6" stroke-opacity="0.35"/>
<text x="675.80" y="641.40" font-size="6.5" text-anchor="start" fill="#333">13</text>
<line x1="661.7" y1="650.35" x2="670.7" y2="650.35" stroke="#ED68ED" stroke-width="1.6" stroke-opacity="0.6"/>
<text x="675.80" y="652.65" font-size="6.5" text-anchor="start" fill="#333">14</text>
<line x1="661.7" y1="661.60" x2="670.7" y2="661.60" stroke="#FF61CC" stroke-width="1.6" stroke-opacity="0.8"/>
<text x="675.80" y="663.90" font-size="6.5" text-anchor="start" fill="#333">15</text>
<line x1="661.7" y1="672.85" x2="670.7" y2="672.85" stroke="#FF68A1" stroke-width="1.6" stroke-opacity="0.4"/>
<text x="675.80" y="675.15" font-size="6.5" text-anchor="start" fill="#333">16</text>
<text x="0" y="0" font-size="23.6" text-anchor="start" fill="#000" transform="translate(25.30 17.00) scale(0.88 1.0)" style="font-family:&quot;Liberation Serif&quot;,serif" font-weight="bold">A</text>
<text x="379.00" y="26.40" font-size="23.6" text-anchor="start" fill="#000" style="font-family:&quot;Liberation Serif&quot;,serif" font-weight="bold">B</text>
<text x="22.80" y="419.00" font-size="23.6" text-anchor="start" fill="#000" style="font-family:&quot;Liberation Serif&quot;,serif" font-weight="bold">C</text>
<text x="379.30" y="414.00" font-size="23.6" text-anchor="start" fill="#000" style="font-family:&quot;Liberation Serif&quot;,serif" font-weight="bold">D</text>
<rect x="2" y="741.5" width="3" height="1.3" fill="#999"/>
<rect x="21" y="741.5" width="5.300000000000001" height="1.3" fill="#999"/>
<rect x="37" y="741.5" width="4.5" height="1.3" fill="#999"/>
<rect x="102" y="741.5" width="3" height="1.3" fill="#999"/>
<rect x="163" y="741.5" width="3" height="1.3" fill="#999"/>
<rect x="174" y="741.5" width="2" height="1.3" fill="#999"/>
<rect x="206" y="741.5" width="4" height="1.3" fill="#999"/>
<rect x="271" y="741.5" width="2" height="1.3" fill="#999"/>
<rect x="308" y="741.5" width="3" height="1.3" fill="#999"/>
<rect x="337" y="741.5" width="10" height="1.3" fill="#999"/>
<rect x="354" y="741.5" width="7" height="1.3" fill="#999"/>
<rect x="365" y="741.5" width="6" height="1.3" fill="#999"/>
<rect x="380.5" y="741.5" width="2.0" height="1.3" fill="#999"/>
<rect x="390.5" y="741.5" width="1.5" height="1.3" fill="#999"/>
<rect x="400" y="741.5" width="2" height="1.3" fill="#999"/>
<rect x="441" y="741.5" width="2" height="1.3" fill="#999"/>
<rect x="452" y="741.5" width="11" height="1.3" fill="#999"/>
<rect x="465" y="741.5" width="12" height="1.3" fill="#999"/>
<rect x="479" y="741.5" width="7" height="1.3" fill="#999"/>
<rect x="500" y="741.5" width="10" height="1.3" fill="#999"/>
<rect x="515" y="741.5" width="2" height="1.3" fill="#999"/>
<rect x="532" y="741.5" width="2" height="1.3" fill="#999"/>
<rect x="587" y="741.5" width="10" height="1.3" fill="#999"/>
<rect x="615" y="741.5" width="4" height="1.3" fill="#999"/></svg>
</body></html>
